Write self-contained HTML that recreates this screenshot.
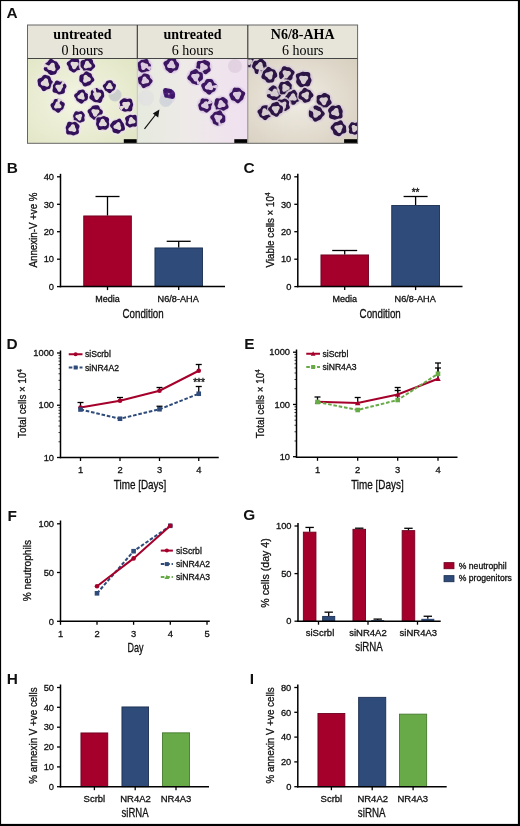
<!DOCTYPE html>
<html><head><meta charset="utf-8"><style>
html,body{margin:0;padding:0;background:#fff;width:520px;height:826px;overflow:hidden}
svg{display:block;filter:blur(0.3px)}

</style></head><body>
<svg width="520" height="826" viewBox="0 0 520 826">
<rect x="0" y="0" width="520" height="826" fill="#fff"/>
<text x="6.5" y="17.5" font-family="Liberation Sans" font-size="15.4" text-anchor="start" font-weight="bold" fill="#111" >A</text>
<defs>
<radialGradient id="bg0" cx="0.45" cy="0.5" r="0.7"><stop offset="0" stop-color="#f3f5e2"/><stop offset="1" stop-color="#e2e6c6"/></radialGradient>
<radialGradient id="bg1" cx="0.45" cy="0.5" r="0.7"><stop offset="0" stop-color="#f6f0f6"/><stop offset="1" stop-color="#e0dae0"/></radialGradient>
<radialGradient id="bg2" cx="0.45" cy="0.5" r="0.7"><stop offset="0" stop-color="#f0ece4"/><stop offset="1" stop-color="#d8d0c0"/></radialGradient>
<linearGradient id="bg1l" x1="0" y1="0" x2="1" y2="0"><stop offset="0" stop-color="#e6eade"/><stop offset="0.45" stop-color="#eeeae8"/><stop offset="1" stop-color="#f0e0f0"/></linearGradient>
</defs>
<rect x="27.5" y="58.5" width="109.80000000000001" height="84.80000000000001" fill="url(#bg0)"/>
<rect x="137.3" y="58.5" width="110.5" height="84.80000000000001" fill="url(#bg1l)"/>
<rect x="247.8" y="58.5" width="109.80000000000001" height="84.80000000000001" fill="url(#bg2)"/>
<clipPath id="c1"><rect x="27.5" y="58.5" width="109.80000000000001" height="84.80000000000001"/></clipPath>
<clipPath id="c2"><rect x="137.3" y="58.5" width="110.5" height="84.80000000000001"/></clipPath>
<clipPath id="c3"><rect x="247.8" y="58.5" width="109.80000000000001" height="84.80000000000001"/></clipPath>
<g clip-path="url(#c1)">
<circle cx="115" cy="95" r="6.5" fill="#c8cccc" opacity="0.9"/>
<circle cx="51.8" cy="67.2" r="9.5" fill="#f0e8f2" opacity="0.75"/>
<circle cx="51.8" cy="67.2" r="8.5" fill="#e2dad8"/>
<path d="M60.20,67.20 L59.79,68.61 L58.58,69.67 L57.47,70.48 L56.94,71.51 L56.56,72.87 L55.74,74.02 L54.48,74.55 L53.13,74.73 L51.80,74.97 L50.41,75.07 L49.14,74.50 L48.28,73.30 L47.62,72.18 L46.62,71.55 L45.18,71.02 L44.00,70.04 L43.72,68.62 L44.13,67.20 L44.54,65.92 L44.81,64.66 L45.35,63.48 L46.36,62.64 L47.45,62.01 L48.27,61.09 L49.10,59.79 L50.32,58.81 L51.80,58.90 L53.10,59.83 L54.16,60.72 L55.28,61.18 L56.50,61.60 L57.48,62.44 L58.10,63.56 L58.76,64.67 L59.64,65.82 Z M55.07,67.20 L54.88,66.66 L54.80,66.11 L54.78,65.48 L54.73,64.74 L54.51,63.97 L54.07,63.27 L53.40,62.81 L52.60,62.66 L51.80,62.84 L51.11,63.28 L50.58,63.84 L50.17,64.37 L49.79,64.81 L49.36,65.15 L48.82,65.48 L48.21,65.89 L47.64,66.47 L47.27,67.20 L47.20,68.01 L47.47,68.78 L48.03,69.38 L48.75,69.76 L49.50,69.94 L50.17,70.03 L50.73,70.14 L51.25,70.34 L51.80,70.64 L52.46,70.96 L53.24,71.17 L54.07,71.13 L54.81,70.78 L55.33,70.16 L55.57,69.38 L55.54,68.56 L55.33,67.82 Z" fill="#33105a" fill-rule="evenodd"/>
<path d="M51.80,67.20 L43.55,67.33 L44.42,63.52 Z" fill="#e2dad8"/>
<circle cx="74.4" cy="65" r="9.0" fill="#f0e8f2" opacity="0.75"/>
<circle cx="74.4" cy="65" r="8.0" fill="#e2dad8"/>
<path d="M81.58,65.00 L81.38,66.23 L81.25,67.49 L80.96,68.79 L80.07,69.76 L78.70,70.12 L77.44,70.26 L76.52,70.84 L75.61,71.87 L74.40,72.62 L73.08,72.50 L71.93,71.78 L70.90,71.06 L69.85,70.43 L69.00,69.53 L68.65,68.32 L68.54,67.13 L68.07,66.12 L67.18,65.00 L66.63,63.63 L67.07,62.33 L68.23,61.44 L69.36,60.77 L70.17,59.96 L70.99,59.09 L72.06,58.58 L73.24,58.45 L74.40,58.22 L75.68,57.75 L77.10,57.59 L78.25,58.33 L78.84,59.71 L79.16,61.00 L79.82,61.87 L80.79,62.67 L81.49,63.75 Z M78.21,65.00 L78.48,64.28 L78.48,63.52 L78.17,62.83 L77.59,62.32 L76.87,62.05 L76.14,61.99 L75.47,62.05 L74.91,62.10 L74.40,62.07 L73.86,61.94 L73.23,61.77 L72.50,61.70 L71.74,61.83 L71.08,62.21 L70.63,62.83 L70.48,63.57 L70.61,64.33 L70.93,65.00 L71.31,65.55 L71.64,66.01 L71.86,66.47 L72.02,67.00 L72.19,67.63 L72.50,68.30 L72.98,68.89 L73.65,69.27 L74.40,69.35 L75.12,69.10 L75.72,68.61 L76.14,68.01 L76.42,67.40 L76.65,66.89 L76.94,66.47 L77.32,66.06 L77.78,65.60 Z" fill="#33105a" fill-rule="evenodd"/>
<circle cx="87.5" cy="65" r="9.0" fill="#f0e8f2" opacity="0.75"/>
<circle cx="87.5" cy="65" r="8.0" fill="#e2dad8"/>
<path d="M94.96,65.00 L95.30,66.37 L94.64,67.60 L93.52,68.47 L92.59,69.27 L91.85,70.18 L90.93,70.94 L89.78,71.27 L88.63,71.42 L87.50,71.88 L86.18,72.48 L84.78,72.48 L83.74,71.51 L83.22,70.11 L82.74,69.00 L81.90,68.23 L80.98,67.37 L80.50,66.23 L80.49,65.00 L80.51,63.77 L80.46,62.44 L80.84,61.15 L81.94,60.33 L83.36,60.07 L84.49,59.78 L85.31,58.97 L86.25,57.92 L87.50,57.41 L88.79,57.70 L89.94,58.31 L91.06,58.83 L92.15,59.46 L92.86,60.51 L93.06,61.79 L93.27,62.90 L94.00,63.85 Z M91.47,65.00 L91.05,64.37 L90.55,63.89 L90.09,63.50 L89.73,63.13 L89.45,62.68 L89.15,62.14 L88.76,61.55 L88.20,61.03 L87.50,60.71 L86.74,60.70 L86.05,61.00 L85.51,61.56 L85.18,62.24 L85.01,62.91 L84.91,63.50 L84.76,64.00 L84.52,64.47 L84.19,65.00 L83.88,65.64 L83.71,66.38 L83.79,67.14 L84.15,67.81 L84.77,68.26 L85.51,68.44 L86.27,68.39 L86.94,68.20 L87.50,67.99 L88.01,67.87 L88.54,67.85 L89.15,67.86 L89.86,67.82 L90.59,67.59 L91.21,67.14 L91.60,66.49 L91.69,65.74 Z" fill="#33105a" fill-rule="evenodd"/>
<circle cx="45.3" cy="82.8" r="9.5" fill="#f0e8f2" opacity="0.75"/>
<circle cx="45.3" cy="82.8" r="8.5" fill="#e2dad8"/>
<path d="M53.66,82.80 L53.49,84.24 L52.54,85.43 L51.57,86.42 L50.86,87.46 L50.05,88.45 L48.90,89.04 L47.67,89.31 L46.53,89.80 L45.30,90.65 L43.83,91.16 L42.45,90.63 L41.55,89.30 L40.93,88.01 L40.09,87.18 L39.01,86.43 L38.21,85.38 L37.95,84.10 L37.82,82.80 L37.55,81.43 L37.51,79.97 L38.30,78.76 L39.75,78.14 L41.10,77.79 L41.98,77.06 L42.78,75.87 L43.91,74.93 L45.30,74.80 L46.64,75.21 L47.92,75.61 L49.21,76.03 L50.25,76.90 L50.75,78.23 L50.99,79.51 L51.66,80.49 L52.81,81.48 Z M48.64,82.80 L48.40,82.25 L48.26,81.72 L48.21,81.12 L48.14,80.42 L47.94,79.65 L47.53,78.94 L46.89,78.42 L46.11,78.22 L45.30,78.36 L44.59,78.77 L44.04,79.33 L43.63,79.91 L43.28,80.39 L42.89,80.78 L42.39,81.12 L41.82,81.53 L41.25,82.09 L40.84,82.80 L40.71,83.61 L40.93,84.39 L41.45,85.02 L42.17,85.43 L42.93,85.63 L43.63,85.69 L44.22,85.75 L44.75,85.90 L45.30,86.16 L45.94,86.45 L46.71,86.66 L47.53,86.66 L48.29,86.37 L48.86,85.79 L49.15,85.02 L49.15,84.20 L48.93,83.44 Z" fill="#33105a" fill-rule="evenodd"/>
<circle cx="59.3" cy="87.6" r="8.8" fill="#f0e8f2" opacity="0.75"/>
<circle cx="59.3" cy="87.6" r="7.8" fill="#e2dad8"/>
<path d="M66.09,87.60 L65.28,88.66 L64.83,89.61 L64.89,90.83 L64.84,92.25 L64.12,93.35 L62.89,93.82 L61.63,94.01 L60.48,94.29 L59.30,94.47 L58.15,94.14 L57.18,93.42 L56.25,92.89 L55.00,92.72 L53.57,92.41 L52.61,91.46 L52.52,90.07 L52.87,88.73 L53.00,87.60 L52.88,86.47 L53.02,85.32 L53.62,84.32 L54.31,83.42 L54.86,82.31 L55.55,81.10 L56.69,80.42 L58.08,80.67 L59.30,81.38 L60.33,81.74 L61.48,81.61 L62.76,81.61 L63.84,82.19 L64.61,83.15 L65.33,84.12 L66.11,85.12 L66.49,86.33 Z M62.73,87.60 L63.03,86.94 L63.14,86.20 L62.97,85.48 L62.51,84.90 L61.86,84.55 L61.12,84.44 L60.42,84.52 L59.82,84.66 L59.30,84.76 L58.80,84.77 L58.24,84.69 L57.59,84.63 L56.86,84.69 L56.17,84.97 L55.63,85.48 L55.36,86.17 L55.38,86.91 L55.66,87.60 L56.07,88.17 L56.50,88.62 L56.84,89.02 L57.10,89.45 L57.31,89.97 L57.59,90.57 L58.00,91.16 L58.59,91.63 L59.30,91.84 L60.03,91.73 L60.66,91.34 L61.12,90.76 L61.41,90.11 L61.59,89.52 L61.76,89.02 L62.00,88.58 L62.35,88.14 Z" fill="#33105a" fill-rule="evenodd"/>
<path d="M59.30,87.60 L62.57,80.87 L65.18,82.98 Z" fill="#e2dad8"/>
<circle cx="86.5" cy="79" r="9.0" fill="#f0e8f2" opacity="0.75"/>
<circle cx="86.5" cy="79" r="8.0" fill="#e2dad8"/>
<path d="M94.22,79.00 L94.33,80.38 L93.45,81.53 L92.28,82.34 L91.44,83.14 L90.80,84.13 L89.95,84.97 L88.82,85.38 L87.67,85.64 L86.50,86.13 L85.16,86.60 L83.82,86.36 L82.90,85.24 L82.40,83.88 L81.82,82.93 L80.81,82.29 L79.78,81.45 L79.30,80.27 L79.34,79.00 L79.44,77.75 L79.51,76.46 L80.02,75.26 L81.17,74.53 L82.49,74.22 L83.46,73.74 L84.22,72.72 L85.20,71.63 L86.50,71.25 L87.78,71.71 L88.89,72.42 L89.98,72.98 L91.02,73.61 L91.73,74.61 L92.03,75.80 L92.44,76.84 L93.32,77.80 Z M90.82,79.00 L90.54,78.29 L90.03,77.72 L89.43,77.31 L88.86,77.02 L88.38,76.76 L87.98,76.44 L87.59,76.01 L87.11,75.53 L86.50,75.10 L85.77,74.86 L85.01,74.90 L84.34,75.26 L83.87,75.86 L83.62,76.59 L83.57,77.31 L83.61,77.95 L83.62,78.49 L83.54,79.00 L83.37,79.55 L83.19,80.21 L83.12,80.95 L83.28,81.70 L83.70,82.34 L84.34,82.74 L85.10,82.85 L85.85,82.70 L86.50,82.38 L87.03,82.03 L87.50,81.74 L87.98,81.56 L88.55,81.44 L89.20,81.27 L89.88,80.95 L90.45,80.44 L90.79,79.76 Z" fill="#33105a" fill-rule="evenodd"/>
<circle cx="81.4" cy="96.4" r="8.5" fill="#f0e8f2" opacity="0.75"/>
<circle cx="81.4" cy="96.4" r="7.5" fill="#e2dad8"/>
<path d="M88.18,96.40 L87.92,97.55 L87.72,98.70 L87.28,99.79 L86.33,100.54 L85.16,100.88 L84.24,101.32 L83.53,102.25 L82.62,103.31 L81.40,103.71 L80.19,103.23 L79.21,102.43 L78.27,101.82 L77.30,101.29 L76.54,100.48 L76.14,99.44 L75.76,98.45 L75.03,97.52 L74.24,96.40 L74.13,95.12 L74.94,94.05 L76.10,93.34 L76.93,92.65 L77.47,91.72 L78.17,90.80 L79.18,90.29 L80.28,90.07 L81.40,89.77 L82.63,89.44 L83.86,89.65 L84.73,90.64 L85.18,91.89 L85.70,92.79 L86.66,93.37 L87.72,94.10 L88.27,95.19 Z M84.26,96.40 L84.07,95.93 L83.98,95.46 L83.95,94.93 L83.90,94.30 L83.72,93.63 L83.35,93.03 L82.78,92.60 L82.10,92.45 L81.40,92.58 L80.79,92.95 L80.32,93.44 L79.97,93.92 L79.66,94.32 L79.30,94.64 L78.85,94.93 L78.34,95.28 L77.84,95.77 L77.50,96.40 L77.42,97.10 L77.63,97.77 L78.10,98.31 L78.72,98.65 L79.38,98.81 L79.97,98.88 L80.47,98.95 L80.92,99.10 L81.40,99.34 L81.97,99.61 L82.63,99.79 L83.35,99.77 L84.00,99.50 L84.48,98.98 L84.70,98.31 L84.69,97.60 L84.50,96.95 Z" fill="#33105a" fill-rule="evenodd"/>
<circle cx="97" cy="95.5" r="9.2" fill="#f0e8f2" opacity="0.75"/>
<circle cx="97" cy="95.5" r="8.2" fill="#e2dad8"/>
<path d="M104.20,95.50 L104.04,96.74 L103.35,97.81 L102.60,98.73 L102.21,99.88 L101.91,101.35 L101.09,102.59 L99.71,102.93 L98.24,102.52 L97.00,102.13 L95.83,102.13 L94.59,102.12 L93.46,101.62 L92.54,100.81 L91.54,100.08 L90.33,99.35 L89.39,98.27 L89.38,96.84 L90.14,95.50 L90.81,94.41 L90.89,93.28 L90.81,91.92 L91.23,90.66 L92.21,89.79 L93.33,89.15 L94.43,88.44 L95.66,87.90 L97.00,88.07 L98.16,88.90 L99.13,89.66 L100.27,89.83 L101.76,89.83 L103.10,90.38 L103.77,91.59 L103.89,92.99 L104.00,94.27 Z M101.02,95.50 L101.26,94.75 L101.21,93.97 L100.85,93.28 L100.23,92.79 L99.48,92.55 L98.74,92.49 L98.08,92.53 L97.52,92.54 L97.00,92.45 L96.43,92.27 L95.76,92.09 L94.99,92.02 L94.22,92.18 L93.56,92.62 L93.15,93.28 L93.04,94.06 L93.20,94.83 L93.53,95.50 L93.89,96.05 L94.18,96.53 L94.36,97.02 L94.49,97.61 L94.66,98.28 L94.99,98.98 L95.52,99.57 L96.22,99.92 L97.00,99.94 L97.73,99.65 L98.32,99.12 L98.74,98.51 L99.03,97.92 L99.30,97.43 L99.64,97.02 L100.08,96.62 L100.58,96.13 Z" fill="#33105a" fill-rule="evenodd"/>
<path d="M97.00,95.50 L91.96,89.39 L95.51,87.72 Z" fill="#e2dad8"/>
<circle cx="57.7" cy="105.5" r="8.5" fill="#f0e8f2" opacity="0.75"/>
<circle cx="57.7" cy="105.5" r="7.5" fill="#e2dad8"/>
<path d="M64.48,105.50 L63.96,106.60 L63.64,107.66 L63.26,108.71 L62.51,109.53 L61.55,110.08 L60.72,110.74 L59.98,111.75 L58.97,112.69 L57.70,112.81 L56.54,112.06 L55.65,111.14 L54.75,110.60 L53.69,110.28 L52.73,109.67 L52.13,108.72 L51.67,107.69 L51.05,106.67 L50.52,105.50 L50.69,104.26 L51.64,103.30 L52.73,102.63 L53.35,101.85 L53.68,100.71 L54.29,99.59 L55.34,99.00 L56.54,98.91 L57.70,98.86 L58.88,98.80 L60.01,99.14 L60.84,100.07 L61.38,101.11 L62.11,101.80 L63.28,102.28 L64.42,103.05 L64.83,104.24 Z M61.28,105.50 L60.88,104.94 L60.44,104.50 L60.07,104.13 L59.78,103.75 L59.56,103.29 L59.29,102.74 L58.91,102.18 L58.37,101.72 L57.70,101.47 L57.00,101.52 L56.38,101.86 L55.91,102.40 L55.63,103.03 L55.46,103.62 L55.33,104.13 L55.14,104.57 L54.86,105.00 L54.52,105.50 L54.22,106.11 L54.09,106.81 L54.21,107.51 L54.61,108.10 L55.21,108.47 L55.91,108.60 L56.60,108.53 L57.19,108.37 L57.70,108.23 L58.17,108.18 L58.69,108.21 L59.29,108.26 L59.97,108.21 L60.64,107.97 L61.19,107.51 L61.49,106.88 L61.52,106.17 Z" fill="#33105a" fill-rule="evenodd"/>
<path d="M57.70,105.50 L57.55,98.35 L61.58,99.49 Z" fill="#e2dad8"/>
<circle cx="109.5" cy="86.5" r="8.0" fill="#f0e8f2" opacity="0.75"/>
<circle cx="109.5" cy="86.5" r="7.0" fill="#e2dad8"/>
<path d="M115.82,86.50 L115.43,87.55 L115.16,88.56 L114.76,89.54 L113.98,90.26 L113.00,90.67 L112.19,91.16 L111.53,92.07 L110.65,93.02 L109.50,93.30 L108.40,92.74 L107.53,91.90 L106.71,91.33 L105.79,90.92 L104.99,90.28 L104.51,89.38 L104.11,88.46 L103.48,87.56 L102.86,86.50 L102.87,85.33 L103.69,84.38 L104.76,83.76 L105.47,83.11 L105.87,82.17 L106.45,81.21 L107.38,80.67 L108.44,80.50 L109.50,80.34 L110.62,80.18 L111.71,80.44 L112.49,81.33 L112.93,82.41 L113.48,83.16 L114.46,83.64 L115.51,84.31 L116.00,85.35 Z M112.52,86.50 L112.19,86.03 L111.88,85.63 L111.67,85.25 L111.52,84.81 L111.36,84.28 L111.11,83.71 L110.70,83.20 L110.14,82.85 L109.50,82.76 L108.87,82.95 L108.36,83.36 L107.99,83.88 L107.75,84.41 L107.56,84.87 L107.33,85.25 L107.02,85.60 L106.65,86.00 L106.28,86.50 L106.04,87.11 L106.02,87.77 L106.26,88.37 L106.74,88.82 L107.35,89.06 L107.99,89.12 L108.57,89.06 L109.06,89.00 L109.50,89.00 L109.96,89.09 L110.49,89.22 L111.11,89.29 L111.76,89.19 L112.34,88.88 L112.74,88.37 L112.89,87.73 L112.79,87.08 Z" fill="#33105a" fill-rule="evenodd"/>
<circle cx="126.3" cy="105" r="9.0" fill="#f0e8f2" opacity="0.75"/>
<circle cx="126.3" cy="105" r="8.0" fill="#e2dad8"/>
<path d="M133.15,105.00 L132.77,106.14 L132.37,107.21 L132.28,108.45 L132.17,109.93 L131.42,111.10 L130.03,111.46 L128.57,111.24 L127.39,111.18 L126.30,111.54 L125.09,111.84 L123.90,111.59 L122.84,111.00 L121.73,110.45 L120.50,109.87 L119.59,108.87 L119.51,107.47 L120.01,106.11 L120.26,105.00 L119.92,103.87 L119.53,102.53 L119.79,101.24 L120.69,100.29 L121.72,99.54 L122.69,98.75 L123.80,98.13 L125.09,98.13 L126.30,98.65 L127.36,98.98 L128.57,98.76 L130.05,98.50 L131.37,98.96 L132.06,100.17 L132.31,101.53 L132.62,102.70 L133.05,103.81 Z M129.85,105.00 L130.16,104.32 L130.26,103.56 L130.08,102.82 L129.60,102.23 L128.92,101.87 L128.17,101.77 L127.45,101.84 L126.83,101.99 L126.30,102.08 L125.78,102.08 L125.21,101.99 L124.53,101.93 L123.78,102.00 L123.07,102.29 L122.52,102.82 L122.25,103.53 L122.28,104.29 L122.57,105.00 L122.99,105.58 L123.42,106.05 L123.77,106.46 L124.03,106.91 L124.24,107.45 L124.53,108.07 L124.96,108.68 L125.57,109.15 L126.30,109.36 L127.05,109.25 L127.70,108.84 L128.17,108.23 L128.46,107.57 L128.64,106.97 L128.83,106.46 L129.09,106.02 L129.45,105.56 Z" fill="#33105a" fill-rule="evenodd"/>
<path d="M126.30,105.00 L121.07,110.65 L118.77,106.59 Z" fill="#e2dad8"/>
<circle cx="95.3" cy="112.4" r="9.0" fill="#f0e8f2" opacity="0.75"/>
<circle cx="95.3" cy="112.4" r="8.0" fill="#e2dad8"/>
<path d="M102.79,112.40 L102.37,113.65 L101.98,114.83 L101.57,116.02 L100.74,116.96 L99.52,117.43 L98.37,117.72 L97.50,118.43 L96.56,119.55 L95.30,120.28 L93.96,120.01 L92.87,119.07 L91.96,118.18 L90.98,117.55 L90.04,116.81 L89.47,115.76 L89.18,114.63 L88.66,113.57 L87.87,112.40 L87.48,111.02 L88.07,109.77 L89.35,108.97 L90.50,108.37 L91.21,107.53 L91.88,106.48 L92.87,105.73 L94.08,105.48 L95.30,105.36 L96.58,105.13 L97.93,105.16 L99.01,105.97 L99.57,107.32 L99.94,108.51 L100.72,109.27 L101.88,110.00 L102.73,111.09 Z M99.12,112.40 L99.38,111.68 L99.38,110.92 L99.06,110.23 L98.49,109.72 L97.77,109.46 L97.03,109.40 L96.37,109.46 L95.81,109.50 L95.30,109.47 L94.76,109.33 L94.12,109.17 L93.39,109.09 L92.63,109.22 L91.98,109.61 L91.54,110.23 L91.39,110.98 L91.52,111.73 L91.84,112.40 L92.21,112.94 L92.54,113.41 L92.76,113.87 L92.91,114.40 L93.09,115.04 L93.39,115.71 L93.88,116.30 L94.55,116.67 L95.30,116.75 L96.02,116.50 L96.61,116.01 L97.03,115.40 L97.31,114.80 L97.55,114.29 L97.84,113.87 L98.23,113.47 L98.69,113.00 Z" fill="#33105a" fill-rule="evenodd"/>
<circle cx="79" cy="117" r="8.0" fill="#f0e8f2" opacity="0.75"/>
<circle cx="79" cy="117" r="7.0" fill="#e2dad8"/>
<path d="M84.36,117.00 L84.22,117.92 L84.52,119.01 L84.69,120.29 L84.17,121.34 L83.07,121.85 L81.92,122.06 L80.96,122.38 L80.02,122.78 L79.00,122.84 L78.02,122.54 L77.08,122.27 L75.96,122.26 L74.71,122.11 L73.81,121.36 L73.61,120.11 L73.79,118.90 L73.72,117.93 L73.32,117.00 L73.07,115.95 L73.32,114.93 L73.82,114.01 L74.27,113.03 L74.80,111.99 L75.72,111.32 L76.94,111.34 L78.07,111.73 L79.00,111.80 L79.99,111.39 L81.16,111.07 L82.24,111.39 L83.02,112.21 L83.66,113.09 L84.35,113.91 L84.83,114.88 L84.77,115.98 Z M81.68,117.00 L81.91,116.49 L82.08,115.88 L82.08,115.22 L81.85,114.61 L81.39,114.15 L80.78,113.92 L80.12,113.92 L79.51,114.09 L79.00,114.32 L78.56,114.52 L78.14,114.63 L77.66,114.68 L77.10,114.73 L76.49,114.89 L75.92,115.22 L75.50,115.73 L75.33,116.35 L75.44,117.00 L75.77,117.57 L76.22,118.01 L76.68,118.34 L77.07,118.62 L77.38,118.93 L77.66,119.32 L77.99,119.78 L78.43,120.23 L79.00,120.56 L79.65,120.67 L80.27,120.50 L80.78,120.08 L81.11,119.51 L81.27,118.90 L81.32,118.34 L81.37,117.86 L81.48,117.44 Z" fill="#33105a" fill-rule="evenodd"/>
<circle cx="72.5" cy="128.5" r="9.0" fill="#f0e8f2" opacity="0.75"/>
<circle cx="72.5" cy="128.5" r="8.0" fill="#e2dad8"/>
<path d="M78.74,128.50 L78.47,129.55 L78.77,130.78 L78.97,132.24 L78.42,133.47 L77.25,134.16 L76.00,134.57 L74.89,135.06 L73.73,135.45 L72.50,135.32 L71.39,134.78 L70.34,134.42 L69.04,134.49 L67.54,134.41 L66.41,133.61 L66.09,132.20 L66.21,130.79 L66.13,129.62 L65.79,128.50 L65.72,127.30 L66.14,126.19 L66.68,125.14 L67.04,123.92 L67.53,122.58 L68.58,121.70 L70.03,121.72 L71.39,122.22 L72.50,122.38 L73.64,122.02 L74.94,121.79 L76.14,122.19 L77.09,123.03 L78.00,123.89 L78.96,124.77 L79.55,125.94 L79.36,127.29 Z M75.79,128.50 L75.47,127.98 L75.24,127.50 L75.10,127.00 L75.00,126.40 L74.83,125.72 L74.49,125.05 L73.96,124.50 L73.26,124.20 L72.50,124.22 L71.80,124.54 L71.25,125.06 L70.85,125.65 L70.56,126.19 L70.27,126.63 L69.90,127.00 L69.44,127.38 L68.93,127.87 L68.51,128.50 L68.30,129.24 L68.40,129.99 L68.79,130.64 L69.42,131.08 L70.15,131.30 L70.85,131.35 L71.47,131.34 L71.99,131.37 L72.50,131.50 L73.07,131.71 L73.74,131.90 L74.49,131.95 L75.24,131.76 L75.85,131.31 L76.21,130.64 L76.28,129.87 L76.10,129.14 Z" fill="#33105a" fill-rule="evenodd"/>
<circle cx="102.8" cy="123.1" r="9.0" fill="#f0e8f2" opacity="0.75"/>
<circle cx="102.8" cy="123.1" r="8.0" fill="#e2dad8"/>
<path d="M109.18,123.10 L109.84,124.34 L109.92,125.69 L109.23,126.81 L108.26,127.69 L107.38,128.56 L106.42,129.38 L105.20,129.70 L103.92,129.45 L102.80,129.23 L101.66,129.56 L100.26,130.07 L98.85,129.95 L97.90,128.94 L97.45,127.59 L97.04,126.43 L96.44,125.41 L96.04,124.29 L96.13,123.10 L96.39,121.97 L96.37,120.76 L96.25,119.32 L96.70,117.98 L97.94,117.31 L99.45,117.29 L100.67,117.25 L101.68,116.75 L102.80,116.18 L104.03,116.11 L105.19,116.52 L106.34,116.97 L107.60,117.37 L108.70,118.15 L109.12,119.45 L108.89,120.88 L108.73,122.05 Z M106.56,123.10 L106.13,122.51 L105.69,122.05 L105.33,121.64 L105.07,121.20 L104.84,120.67 L104.56,120.05 L104.13,119.44 L103.53,118.96 L102.80,118.74 L102.05,118.84 L101.40,119.25 L100.92,119.84 L100.62,120.51 L100.44,121.12 L100.27,121.64 L100.02,122.09 L99.67,122.55 L99.28,123.10 L98.96,123.78 L98.85,124.54 L99.03,125.28 L99.49,125.88 L100.16,126.24 L100.92,126.36 L101.64,126.28 L102.27,126.13 L102.80,126.02 L103.31,126.01 L103.89,126.09 L104.56,126.15 L105.30,126.08 L106.02,125.80 L106.57,125.28 L106.86,124.58 L106.84,123.81 Z" fill="#33105a" fill-rule="evenodd"/>
<circle cx="117.7" cy="126.3" r="9.0" fill="#f0e8f2" opacity="0.75"/>
<circle cx="117.7" cy="126.3" r="8.0" fill="#e2dad8"/>
<path d="M124.51,126.30 L124.83,127.56 L125.00,128.96 L124.42,130.18 L123.09,130.82 L121.72,131.09 L120.77,131.61 L119.99,132.58 L118.96,133.43 L117.70,133.64 L116.46,133.35 L115.24,133.06 L113.98,132.74 L112.94,131.97 L112.47,130.68 L112.36,129.38 L111.93,128.40 L110.96,127.49 L110.09,126.30 L110.07,124.95 L110.82,123.80 L111.69,122.83 L112.39,121.85 L113.20,120.94 L114.32,120.45 L115.52,120.32 L116.59,119.99 L117.70,119.22 L119.06,118.59 L120.40,118.87 L121.33,120.02 L121.92,121.27 L122.63,122.17 L123.53,122.94 L124.20,123.94 L124.40,125.12 Z M120.76,126.30 L120.57,125.79 L120.49,125.28 L120.47,124.70 L120.42,124.02 L120.22,123.30 L119.81,122.65 L119.19,122.20 L118.45,122.05 L117.70,122.22 L117.05,122.63 L116.55,123.15 L116.17,123.65 L115.82,124.06 L115.43,124.39 L114.93,124.70 L114.36,125.09 L113.84,125.62 L113.48,126.30 L113.40,127.06 L113.65,127.77 L114.17,128.34 L114.84,128.70 L115.54,128.87 L116.17,128.95 L116.70,129.04 L117.18,129.22 L117.70,129.50 L118.32,129.80 L119.04,129.99 L119.81,129.95 L120.50,129.64 L121.00,129.07 L121.23,128.34 L121.21,127.58 L121.01,126.88 Z" fill="#33105a" fill-rule="evenodd"/>
<circle cx="131.6" cy="121" r="8.5" fill="#f0e8f2" opacity="0.75"/>
<circle cx="131.6" cy="121" r="7.5" fill="#e2dad8"/>
<path d="M138.01,121.00 L137.84,122.10 L137.52,123.15 L137.35,124.32 L137.09,125.61 L136.26,126.56 L134.93,126.76 L133.61,126.53 L132.58,126.58 L131.60,127.12 L130.44,127.57 L129.27,127.41 L128.27,126.77 L127.32,126.10 L126.33,125.42 L125.62,124.46 L125.55,123.20 L125.90,122.00 L125.95,121.00 L125.46,119.92 L125.03,118.61 L125.35,117.39 L126.34,116.58 L127.44,116.04 L128.39,115.44 L129.38,114.89 L130.50,114.77 L131.60,115.05 L132.62,115.19 L133.81,114.93 L135.20,114.77 L136.34,115.35 L136.84,116.60 L136.94,117.92 L137.20,118.96 L137.71,119.92 Z M135.43,121.00 L135.06,120.39 L134.57,119.92 L134.09,119.56 L133.68,119.25 L133.36,118.90 L133.07,118.46 L132.71,117.95 L132.22,117.46 L131.60,117.11 L130.90,117.02 L130.23,117.22 L129.69,117.69 L129.34,118.31 L129.18,118.97 L129.11,119.56 L129.05,120.07 L128.90,120.52 L128.67,121.00 L128.40,121.56 L128.22,122.23 L128.23,122.94 L128.50,123.60 L129.02,124.08 L129.69,124.31 L130.40,124.30 L131.05,124.11 L131.60,123.87 L132.07,123.68 L132.54,123.57 L133.07,123.54 L133.69,123.49 L134.36,123.31 L134.97,122.94 L135.40,122.38 L135.56,121.70 Z" fill="#33105a" fill-rule="evenodd"/>
</g>
<g clip-path="url(#c2)">
<ellipse cx="168" cy="96" rx="8" ry="8.5" fill="#e0d8e8" opacity="0.9"/>
<circle cx="165.8" cy="100.5" r="6.5" fill="#cfd3d8" opacity="0.85"/>
<circle cx="146" cy="98" r="8" fill="#e0dde2" opacity="0.6"/>
<circle cx="235" cy="66" r="7" fill="#d8c8d8" opacity="0.6"/>
<circle cx="144" cy="66" r="8.8" fill="#e4d4ee" opacity="0.75"/>
<circle cx="144" cy="66" r="7.8" fill="#dccbe0"/>
<path d="M150.97,66.00 L150.76,67.19 L150.59,68.40 L150.36,69.67 L149.61,70.70 L148.31,71.14 L147.00,71.20 L146.02,71.56 L145.14,72.46 L144.00,73.27 L142.71,73.32 L141.57,72.67 L140.58,71.92 L139.57,71.27 L138.70,70.45 L138.30,69.29 L138.26,68.09 L137.99,67.06 L137.22,66.00 L136.57,64.69 L136.79,63.38 L137.84,62.44 L139.02,61.82 L139.90,61.11 L140.71,60.29 L141.73,59.75 L142.88,59.63 L144.00,59.52 L145.21,59.13 L146.59,58.87 L147.81,59.40 L148.46,60.68 L148.73,62.03 L149.21,62.99 L150.07,63.79 L150.81,64.80 Z M148.15,66.00 L148.18,65.26 L147.90,64.58 L147.36,64.06 L146.70,63.73 L146.04,63.57 L145.46,63.47 L144.97,63.34 L144.51,63.12 L144.00,62.81 L143.38,62.51 L142.67,62.34 L141.92,62.40 L141.27,62.75 L140.82,63.34 L140.64,64.06 L140.68,64.79 L140.87,65.45 L141.08,66.00 L141.21,66.49 L141.25,67.00 L141.24,67.59 L141.29,68.28 L141.50,68.98 L141.92,69.60 L142.55,69.99 L143.28,70.08 L144.00,69.88 L144.61,69.48 L145.09,68.99 L145.46,68.53 L145.82,68.17 L146.24,67.88 L146.76,67.59 L147.33,67.21 L147.84,66.68 Z" fill="#3c1560" fill-rule="evenodd"/>
<path d="M144.00,66.00 L151.47,66.45 L149.82,70.70 Z" fill="#dccbe0"/>
<circle cx="145" cy="80.6" r="8.8" fill="#e4d4ee" opacity="0.75"/>
<circle cx="145" cy="80.6" r="7.8" fill="#dccbe0"/>
<path d="M152.60,80.60 L152.37,81.90 L151.51,82.97 L150.69,83.89 L150.07,84.86 L149.31,85.73 L148.24,86.22 L147.14,86.47 L146.12,86.98 L145.00,87.79 L143.66,88.21 L142.43,87.65 L141.64,86.43 L141.04,85.31 L140.23,84.60 L139.26,83.91 L138.59,82.93 L138.37,81.77 L138.21,80.60 L137.91,79.35 L137.91,78.02 L138.69,76.96 L140.03,76.43 L141.21,76.08 L141.97,75.34 L142.69,74.25 L143.74,73.46 L145.00,73.40 L146.21,73.74 L147.38,74.05 L148.56,74.43 L149.47,75.27 L149.89,76.50 L150.13,77.64 L150.81,78.49 L151.89,79.39 Z M148.98,80.60 L148.60,79.97 L148.09,79.48 L147.59,79.11 L147.17,78.78 L146.85,78.40 L146.54,77.93 L146.17,77.38 L145.66,76.87 L145.00,76.52 L144.26,76.43 L143.56,76.66 L143.01,77.15 L142.65,77.80 L142.48,78.49 L142.41,79.11 L142.33,79.63 L142.17,80.10 L141.91,80.60 L141.63,81.19 L141.44,81.89 L141.46,82.64 L141.76,83.32 L142.30,83.82 L143.01,84.05 L143.75,84.03 L144.43,83.84 L145.00,83.59 L145.49,83.40 L145.98,83.30 L146.54,83.27 L147.20,83.22 L147.90,83.03 L148.54,82.64 L148.98,82.05 L149.13,81.33 Z" fill="#3c1560" fill-rule="evenodd"/>
<circle cx="171.4" cy="65" r="9.3" fill="#e4d4ee" opacity="0.75"/>
<circle cx="171.4" cy="65" r="8.3" fill="#dccbe0"/>
<path d="M179.12,65.00 L178.79,66.30 L178.43,67.56 L178.06,68.84 L177.25,69.91 L175.94,70.41 L174.61,70.56 L173.60,71.05 L172.65,72.09 L171.40,73.00 L169.99,72.99 L168.79,72.16 L167.81,71.21 L166.81,70.47 L165.85,69.66 L165.30,68.52 L165.12,67.29 L164.75,66.17 L163.95,65.00 L163.34,63.58 L163.67,62.19 L164.89,61.24 L166.21,60.64 L167.12,59.90 L167.90,58.93 L168.92,58.18 L170.15,57.93 L171.40,57.83 L172.72,57.54 L174.16,57.41 L175.41,58.05 L176.07,59.43 L176.36,60.84 L176.93,61.81 L177.98,62.60 L178.91,63.68 Z M174.97,65.00 L174.59,64.44 L174.27,63.96 L174.06,63.46 L173.92,62.89 L173.74,62.22 L173.41,61.51 L172.89,60.91 L172.19,60.53 L171.40,60.48 L170.65,60.76 L170.05,61.28 L169.62,61.91 L169.32,62.52 L169.06,63.04 L168.74,63.46 L168.31,63.88 L167.82,64.37 L167.37,65.00 L167.11,65.76 L167.14,66.55 L167.49,67.26 L168.10,67.77 L168.86,68.03 L169.62,68.09 L170.29,68.04 L170.87,68.01 L171.40,68.07 L171.97,68.24 L172.64,68.42 L173.41,68.49 L174.20,68.34 L174.88,67.92 L175.31,67.26 L175.45,66.47 L175.30,65.69 Z" fill="#3c1560" fill-rule="evenodd"/>
<circle cx="203.3" cy="67.2" r="9.3" fill="#e4d4ee" opacity="0.75"/>
<circle cx="203.3" cy="67.2" r="8.3" fill="#dccbe0"/>
<path d="M209.74,67.20 L210.40,68.45 L210.71,69.90 L210.16,71.16 L209.08,72.05 L208.02,72.82 L207.02,73.64 L205.83,74.15 L204.51,74.04 L203.30,73.68 L202.15,73.74 L200.75,74.21 L199.20,74.29 L198.06,73.45 L197.56,72.01 L197.30,70.66 L196.82,69.56 L196.29,68.44 L196.20,67.20 L196.51,66.00 L196.71,64.80 L196.69,63.38 L197.00,61.92 L198.10,61.00 L199.66,60.90 L201.07,61.06 L202.17,60.78 L203.30,60.14 L204.60,59.85 L205.85,60.21 L206.98,60.82 L208.19,61.37 L209.38,62.10 L210.04,63.31 L209.91,64.79 L209.56,66.10 Z M207.84,67.20 L207.61,66.44 L207.11,65.81 L206.47,65.37 L205.83,65.07 L205.28,64.84 L204.82,64.56 L204.40,64.18 L203.91,63.72 L203.30,63.27 L202.56,62.98 L201.76,62.96 L201.03,63.27 L200.49,63.85 L200.19,64.59 L200.13,65.37 L200.19,66.07 L200.27,66.66 L200.25,67.20 L200.13,67.76 L199.97,68.41 L199.90,69.17 L200.02,69.95 L200.40,70.66 L201.03,71.13 L201.80,71.31 L202.60,71.19 L203.30,70.86 L203.87,70.46 L204.35,70.10 L204.82,69.84 L205.37,69.66 L206.01,69.47 L206.70,69.17 L207.33,68.67 L207.74,67.98 Z" fill="#3c1560" fill-rule="evenodd"/>
<circle cx="195.5" cy="77" r="9.3" fill="#e4d4ee" opacity="0.75"/>
<circle cx="195.5" cy="77" r="8.3" fill="#dccbe0"/>
<path d="M202.96,77.00 L203.00,78.32 L202.50,79.55 L201.43,80.42 L200.38,81.10 L199.78,82.10 L199.26,83.52 L198.30,84.69 L196.90,84.92 L195.50,84.43 L194.28,83.92 L193.08,83.65 L191.91,83.22 L191.01,82.35 L190.34,81.33 L189.46,80.49 L188.24,79.64 L187.34,78.44 L187.45,77.00 L188.41,75.75 L189.31,74.75 L189.73,73.67 L190.05,72.42 L190.78,71.37 L191.87,70.72 L193.00,70.14 L194.16,69.40 L195.50,68.92 L196.85,69.32 L197.88,70.47 L198.66,71.52 L199.69,72.01 L201.07,72.33 L202.26,73.10 L202.79,74.35 L202.86,75.70 Z M199.09,77.00 L199.43,76.31 L199.57,75.52 L199.42,74.74 L198.97,74.09 L198.29,73.68 L197.50,73.54 L196.73,73.61 L196.07,73.79 L195.50,73.94 L194.97,73.99 L194.39,73.94 L193.70,73.89 L192.94,73.95 L192.18,74.22 L191.58,74.74 L191.24,75.45 L191.23,76.25 L191.50,77.00 L191.95,77.63 L192.43,78.12 L192.85,78.53 L193.15,78.97 L193.41,79.49 L193.70,80.11 L194.14,80.75 L194.75,81.26 L195.50,81.53 L196.29,81.46 L196.98,81.07 L197.50,80.46 L197.82,79.76 L198.00,79.10 L198.15,78.53 L198.38,78.05 L198.71,77.57 Z" fill="#3c1560" fill-rule="evenodd"/>
<path d="M195.50,77.00 L200.55,83.25 L197.48,84.78 Z" fill="#dccbe0"/>
<circle cx="209.2" cy="86.5" r="9.3" fill="#e4d4ee" opacity="0.75"/>
<circle cx="209.2" cy="86.5" r="8.3" fill="#dccbe0"/>
<path d="M217.12,86.50 L216.48,87.78 L215.92,88.95 L215.47,90.12 L214.72,91.14 L213.60,91.75 L212.50,92.22 L211.59,93.06 L210.56,94.20 L209.20,94.82 L207.82,94.35 L206.75,93.22 L205.87,92.27 L204.82,91.72 L203.72,91.10 L202.96,90.11 L202.54,88.93 L202.03,87.76 L201.36,86.50 L201.14,85.08 L201.90,83.84 L203.24,83.06 L204.34,82.43 L204.95,81.43 L205.54,80.17 L206.57,79.26 L207.88,79.02 L209.20,79.06 L210.52,79.02 L211.86,79.20 L212.93,80.04 L213.53,81.34 L214.03,82.44 L215.00,83.15 L216.33,83.90 L217.21,85.09 Z M212.59,86.50 L212.28,85.96 L212.05,85.46 L211.93,84.92 L211.83,84.29 L211.66,83.57 L211.30,82.86 L210.73,82.30 L209.99,82.01 L209.20,82.06 L208.48,82.41 L207.91,82.96 L207.50,83.56 L207.19,84.11 L206.87,84.55 L206.47,84.92 L205.97,85.32 L205.44,85.84 L205.00,86.50 L204.80,87.28 L204.92,88.06 L205.35,88.72 L206.02,89.17 L206.78,89.39 L207.50,89.44 L208.13,89.44 L208.67,89.49 L209.20,89.65 L209.80,89.89 L210.51,90.09 L211.30,90.14 L212.07,89.92 L212.69,89.43 L213.05,88.72 L213.10,87.92 L212.91,87.15 Z" fill="#3c1560" fill-rule="evenodd"/>
<path d="M209.20,86.50 L217.03,84.73 L216.93,88.67 Z" fill="#dccbe0"/>
<circle cx="237.2" cy="95.1" r="9.3" fill="#e4d4ee" opacity="0.75"/>
<circle cx="237.2" cy="95.1" r="8.3" fill="#dccbe0"/>
<path d="M244.75,95.10 L244.03,96.30 L243.65,97.45 L243.34,98.65 L242.66,99.68 L241.65,100.41 L240.70,101.16 L239.79,102.22 L238.62,103.16 L237.20,103.23 L235.92,102.33 L234.96,101.27 L233.96,100.71 L232.70,100.47 L231.49,99.89 L230.72,98.84 L230.27,97.62 L229.75,96.41 L229.30,95.10 L229.51,93.74 L230.52,92.67 L231.67,91.91 L232.30,90.99 L232.61,89.63 L233.27,88.29 L234.48,87.62 L235.88,87.63 L237.20,87.77 L238.49,87.81 L239.73,88.14 L240.70,89.04 L241.39,90.11 L242.26,90.85 L243.59,91.41 L244.87,92.31 L245.27,93.68 Z M240.77,95.10 L241.11,94.41 L241.25,93.62 L241.12,92.84 L240.67,92.18 L240.00,91.77 L239.21,91.62 L238.44,91.69 L237.77,91.87 L237.20,92.03 L236.67,92.09 L236.09,92.06 L235.41,92.01 L234.65,92.06 L233.90,92.33 L233.28,92.84 L232.94,93.55 L232.91,94.34 L233.18,95.10 L233.63,95.73 L234.12,96.22 L234.54,96.64 L234.86,97.06 L235.12,97.58 L235.41,98.19 L235.84,98.83 L236.45,99.35 L237.20,99.62 L237.99,99.57 L238.69,99.19 L239.21,98.58 L239.53,97.88 L239.71,97.21 L239.86,96.64 L240.07,96.15 L240.39,95.66 Z" fill="#3c1560" fill-rule="evenodd"/>
<circle cx="205.3" cy="105.3" r="8.8" fill="#e4d4ee" opacity="0.75"/>
<circle cx="205.3" cy="105.3" r="7.8" fill="#dccbe0"/>
<path d="M211.77,105.30 L211.24,106.35 L211.20,107.45 L211.14,108.67 L210.60,109.74 L209.68,110.52 L208.75,111.27 L207.79,112.13 L206.60,112.66 L205.30,112.35 L204.21,111.46 L203.30,110.80 L202.18,110.70 L200.81,110.65 L199.65,110.04 L199.06,108.90 L198.80,107.67 L198.49,106.50 L198.28,105.30 L198.61,104.12 L199.43,103.17 L200.13,102.32 L200.39,101.18 L200.64,99.74 L201.45,98.64 L202.78,98.37 L204.13,98.66 L205.30,98.85 L206.44,98.83 L207.58,99.04 L208.54,99.69 L209.38,100.44 L210.42,101.00 L211.69,101.61 L212.56,102.66 L212.49,104.03 Z M208.20,105.30 L208.09,104.81 L208.07,104.29 L208.09,103.69 L208.04,103.00 L207.82,102.29 L207.38,101.69 L206.75,101.31 L206.02,101.24 L205.30,101.45 L204.69,101.86 L204.22,102.34 L203.85,102.78 L203.48,103.13 L203.04,103.41 L202.51,103.69 L201.94,104.08 L201.44,104.62 L201.13,105.30 L201.12,106.04 L201.42,106.71 L201.96,107.23 L202.62,107.55 L203.28,107.71 L203.85,107.82 L204.33,107.96 L204.79,108.20 L205.30,108.52 L205.92,108.82 L206.64,108.99 L207.38,108.91 L208.03,108.55 L208.46,107.95 L208.64,107.23 L208.58,106.50 L208.40,105.85 Z" fill="#3c1560" fill-rule="evenodd"/>
<path d="M205.30,105.30 L209.68,99.23 L212.39,102.93 Z" fill="#dccbe0"/>
<circle cx="221.3" cy="104.3" r="9.1" fill="#e4d4ee" opacity="0.75"/>
<circle cx="221.3" cy="104.3" r="8.1" fill="#dccbe0"/>
<path d="M227.59,104.30 L228.22,105.52 L228.64,106.97 L228.17,108.27 L226.99,109.07 L225.75,109.60 L224.73,110.24 L223.69,110.87 L222.49,111.07 L221.30,110.87 L220.15,110.82 L218.82,111.12 L217.32,111.19 L216.16,110.42 L215.72,108.99 L215.64,107.57 L215.28,106.49 L214.61,105.48 L214.20,104.30 L214.34,103.07 L214.69,101.90 L214.93,100.62 L215.32,99.28 L216.31,98.35 L217.77,98.19 L219.15,98.40 L220.22,98.20 L221.30,97.48 L222.60,96.94 L223.90,97.17 L224.97,97.95 L225.95,98.76 L226.97,99.55 L227.68,100.61 L227.75,101.95 L227.48,103.21 Z M225.45,104.30 L225.05,103.64 L224.52,103.13 L224.00,102.74 L223.57,102.40 L223.23,102.00 L222.91,101.50 L222.52,100.94 L221.99,100.40 L221.30,100.03 L220.53,99.95 L219.80,100.18 L219.22,100.70 L218.85,101.39 L218.68,102.10 L218.60,102.74 L218.52,103.29 L218.34,103.78 L218.07,104.30 L217.78,104.92 L217.58,105.65 L217.60,106.43 L217.91,107.14 L218.48,107.66 L219.22,107.90 L220.00,107.88 L220.71,107.67 L221.30,107.42 L221.81,107.22 L222.33,107.12 L222.91,107.10 L223.60,107.04 L224.33,106.84 L225.00,106.43 L225.46,105.81 L225.61,105.06 Z" fill="#3c1560" fill-rule="evenodd"/>
<circle cx="218.1" cy="118.1" r="9.1" fill="#e4d4ee" opacity="0.75"/>
<circle cx="218.1" cy="118.1" r="8.1" fill="#dccbe0"/>
<path d="M225.23,118.10 L225.27,119.36 L225.30,120.72 L224.80,121.97 L223.58,122.70 L222.19,122.97 L221.17,123.41 L220.39,124.40 L219.40,125.45 L218.10,125.83 L216.81,125.44 L215.64,124.85 L214.48,124.36 L213.41,123.69 L212.77,122.57 L212.55,121.30 L212.19,120.25 L211.29,119.30 L210.34,118.10 L210.19,116.71 L211.01,115.52 L212.12,114.65 L212.96,113.79 L213.67,112.83 L214.63,112.09 L215.80,111.78 L216.94,111.52 L218.10,110.94 L219.46,110.36 L220.85,110.56 L221.80,111.69 L222.32,113.07 L222.92,114.06 L223.88,114.77 L224.81,115.66 L225.22,116.84 Z M222.07,118.10 L222.31,117.36 L222.26,116.59 L221.89,115.91 L221.27,115.44 L220.54,115.20 L219.81,115.15 L219.16,115.18 L218.61,115.18 L218.10,115.09 L217.54,114.91 L216.87,114.72 L216.11,114.66 L215.35,114.82 L214.71,115.26 L214.31,115.91 L214.21,116.68 L214.37,117.44 L214.69,118.10 L215.04,118.64 L215.32,119.11 L215.49,119.60 L215.62,120.18 L215.79,120.85 L216.11,121.54 L216.64,122.12 L217.33,122.46 L218.10,122.47 L218.82,122.18 L219.40,121.66 L219.81,121.05 L220.10,120.48 L220.37,120.00 L220.71,119.60 L221.15,119.21 L221.64,118.72 Z" fill="#3c1560" fill-rule="evenodd"/>
<path d="M218.10,118.10 L221.59,125.09 L218.54,125.90 Z" fill="#dccbe0"/>
<ellipse cx="169.2" cy="93.5" rx="6.2" ry="4.8" fill="#4a2078" transform="rotate(25 169.2 93.5)"/>
<circle cx="165.5" cy="90.5" r="2.4" fill="#3c1468"/><circle cx="172.5" cy="96.5" r="2.4" fill="#3c1468"/><circle cx="170" cy="91" r="2" fill="#3c1468"/><circle cx="166" cy="96" r="1.8" fill="#3c1468"/><circle cx="168.8" cy="93.8" r="0.9" fill="#b898c8"/>
</g>
<g clip-path="url(#c3)">
<circle cx="249.2" cy="61.8" r="7.4" fill="#dccfe0" opacity="0.75"/>
<circle cx="249.2" cy="61.8" r="6.4" fill="#d6cdd0"/>
<path d="M255.07,61.80 L254.97,62.82 L254.23,63.63 L253.33,64.19 L252.80,64.82 L252.53,65.77 L252.07,66.77 L251.20,67.31 L250.18,67.34 L249.20,67.26 L248.24,67.24 L247.31,67.00 L246.58,66.33 L246.10,65.49 L245.51,64.90 L244.56,64.48 L243.59,63.84 L243.21,62.86 L243.54,61.80 L244.07,60.90 L244.39,60.05 L244.64,59.17 L245.17,58.42 L245.93,57.90 L246.65,57.38 L247.31,56.61 L248.15,55.86 L249.20,55.73 L250.16,56.35 L250.89,57.16 L251.60,57.64 L252.50,57.87 L253.38,58.29 L253.95,59.06 L254.29,59.95 L254.69,60.83 Z M252.01,61.80 L252.24,61.26 L252.30,60.67 L252.12,60.12 L251.72,59.68 L251.18,59.43 L250.60,59.37 L250.06,59.43 L249.60,59.51 L249.20,59.55 L248.80,59.51 L248.34,59.42 L247.80,59.37 L247.21,59.43 L246.68,59.68 L246.28,60.12 L246.10,60.67 L246.16,61.26 L246.39,61.80 L246.71,62.24 L247.02,62.59 L247.25,62.92 L247.42,63.29 L247.58,63.74 L247.80,64.23 L248.14,64.70 L248.63,65.04 L249.20,65.17 L249.77,65.04 L250.26,64.70 L250.60,64.23 L250.82,63.74 L250.98,63.29 L251.15,62.92 L251.38,62.59 L251.69,62.24 Z" fill="#2c1444" fill-rule="evenodd"/>
<path d="M249.20,61.80 L254.67,64.11 L253.00,66.36 Z" fill="#d6cdd0"/>
<circle cx="259.8" cy="66.5" r="9.4" fill="#dccfe0" opacity="0.75"/>
<circle cx="259.8" cy="66.5" r="8.4" fill="#d6cdd0"/>
<path d="M266.98,66.50 L267.71,67.89 L267.73,69.38 L266.71,70.49 L265.28,71.10 L264.14,71.67 L263.28,72.53 L262.29,73.34 L261.07,73.68 L259.80,73.68 L258.51,73.83 L257.05,74.04 L255.66,73.68 L254.81,72.45 L254.55,70.91 L254.24,69.71 L253.41,68.83 L252.42,67.80 L251.99,66.50 L252.25,65.17 L252.71,63.92 L253.10,62.63 L253.77,61.44 L254.99,60.77 L256.43,60.67 L257.61,60.49 L258.60,59.70 L259.80,58.69 L261.23,58.37 L262.52,59.02 L263.52,60.06 L264.46,60.94 L265.44,61.77 L266.10,62.86 L266.27,64.15 L266.39,65.34 Z M263.14,66.50 L262.87,65.96 L262.71,65.44 L262.63,64.87 L262.56,64.19 L262.37,63.44 L261.98,62.73 L261.36,62.20 L260.60,61.97 L259.80,62.07 L259.09,62.46 L258.53,63.02 L258.13,63.60 L257.79,64.11 L257.43,64.51 L256.97,64.87 L256.42,65.27 L255.87,65.81 L255.45,66.50 L255.29,67.29 L255.47,68.07 L255.96,68.71 L256.66,69.13 L257.42,69.34 L258.13,69.40 L258.73,69.43 L259.26,69.55 L259.80,69.77 L260.42,70.04 L261.17,70.25 L261.98,70.27 L262.74,70.01 L263.33,69.46 L263.64,68.71 L263.65,67.90 L263.45,67.14 Z" fill="#2c1444" fill-rule="evenodd"/>
<path d="M259.80,66.50 L261.60,74.44 L257.79,74.39 Z" fill="#d6cdd0"/>
<circle cx="269.4" cy="75.1" r="9.4" fill="#dccfe0" opacity="0.75"/>
<circle cx="269.4" cy="75.1" r="8.4" fill="#d6cdd0"/>
<path d="M277.56,75.10 L277.18,76.47 L276.04,77.52 L274.95,78.31 L274.45,79.33 L274.13,80.74 L273.37,81.98 L272.10,82.53 L270.72,82.58 L269.40,82.63 L268.07,82.66 L266.82,82.18 L265.92,81.13 L265.23,80.07 L264.23,79.44 L262.80,78.91 L261.60,77.94 L261.34,76.52 L261.86,75.10 L262.42,73.87 L262.70,72.66 L263.11,71.47 L263.96,70.53 L264.99,69.84 L265.86,68.97 L266.73,67.76 L267.94,66.84 L269.40,66.94 L270.67,67.90 L271.68,68.85 L272.76,69.28 L274.03,69.58 L275.13,70.29 L275.81,71.40 L276.37,72.56 L277.08,73.75 Z M272.62,75.10 L272.87,74.49 L273.08,73.76 L273.12,72.95 L272.88,72.18 L272.37,71.57 L271.64,71.22 L270.83,71.18 L270.06,71.38 L269.40,71.70 L268.85,72.00 L268.35,72.20 L267.79,72.31 L267.13,72.40 L266.40,72.58 L265.68,72.95 L265.13,73.54 L264.86,74.30 L264.93,75.10 L265.30,75.82 L265.85,76.39 L266.45,76.80 L266.99,77.12 L267.42,77.46 L267.79,77.89 L268.19,78.42 L268.72,78.96 L269.40,79.39 L270.19,79.58 L270.98,79.44 L271.64,78.98 L272.08,78.29 L272.29,77.53 L272.35,76.80 L272.36,76.18 L272.44,75.64 Z" fill="#2c1444" fill-rule="evenodd"/>
<circle cx="286.5" cy="74" r="9.4" fill="#dccfe0" opacity="0.75"/>
<circle cx="286.5" cy="74" r="8.4" fill="#d6cdd0"/>
<path d="M294.07,74.00 L293.12,75.17 L292.64,76.23 L292.58,77.51 L292.27,78.84 L291.39,79.82 L290.24,80.48 L289.11,81.16 L287.89,81.86 L286.50,81.97 L285.23,81.21 L284.26,80.15 L283.28,79.57 L281.93,79.45 L280.44,79.08 L279.49,78.05 L279.22,76.65 L279.18,75.29 L279.02,74.00 L279.09,72.69 L279.76,71.55 L280.74,70.67 L281.41,69.73 L281.77,68.36 L282.40,66.90 L283.64,66.14 L285.15,66.36 L286.50,66.92 L287.70,67.17 L288.95,67.27 L290.12,67.73 L291.03,68.60 L291.90,69.47 L293.06,70.21 L294.24,71.18 L294.67,72.56 Z M290.74,74.00 L290.95,73.22 L290.84,72.42 L290.40,71.75 L289.73,71.29 L288.97,71.06 L288.23,71.01 L287.59,71.02 L287.03,70.97 L286.50,70.81 L285.90,70.58 L285.18,70.37 L284.38,70.33 L283.59,70.54 L282.96,71.03 L282.60,71.75 L282.53,72.56 L282.72,73.33 L283.05,74.00 L283.37,74.55 L283.61,75.05 L283.74,75.59 L283.84,76.23 L284.02,76.96 L284.38,77.67 L284.95,78.25 L285.70,78.55 L286.50,78.51 L287.23,78.16 L287.81,77.60 L288.23,76.99 L288.54,76.43 L288.86,75.98 L289.26,75.59 L289.76,75.19 L290.30,74.67 Z" fill="#2c1444" fill-rule="evenodd"/>
<path d="M286.50,74.00 L283.64,81.62 L280.65,79.66 Z" fill="#d6cdd0"/>
<circle cx="303.6" cy="79.3" r="9.9" fill="#dccfe0" opacity="0.75"/>
<circle cx="303.6" cy="79.3" r="8.9" fill="#d6cdd0"/>
<path d="M311.35,79.30 L311.52,80.70 L311.07,82.02 L310.50,83.28 L310.00,84.67 L309.18,85.94 L307.77,86.52 L306.15,86.29 L304.78,86.01 L303.60,86.39 L302.22,87.14 L300.68,87.33 L299.37,86.62 L298.40,85.49 L297.47,84.45 L296.55,83.37 L296.10,82.03 L296.33,80.58 L296.66,79.30 L296.42,78.03 L295.85,76.48 L295.88,74.84 L296.93,73.71 L298.48,73.20 L299.85,72.80 L301.01,72.18 L302.26,71.67 L303.60,71.71 L304.88,72.04 L306.22,72.11 L307.81,72.01 L309.36,72.43 L310.22,73.75 L310.27,75.45 L310.22,76.89 L310.67,78.05 Z M307.83,79.30 L308.15,78.50 L308.18,77.63 L307.86,76.84 L307.24,76.25 L306.44,75.92 L305.59,75.85 L304.83,75.92 L304.18,76.01 L303.60,76.00 L303.00,75.89 L302.30,75.73 L301.49,75.64 L300.63,75.76 L299.87,76.17 L299.34,76.84 L299.13,77.67 L299.26,78.53 L299.61,79.30 L300.06,79.92 L300.46,80.44 L300.75,80.95 L300.95,81.53 L301.15,82.21 L301.49,82.96 L302.02,83.64 L302.75,84.10 L303.60,84.22 L304.43,83.98 L305.11,83.45 L305.59,82.75 L305.91,82.06 L306.16,81.45 L306.45,80.95 L306.85,80.48 L307.35,79.96 Z" fill="#2c1444" fill-rule="evenodd"/>
<circle cx="274.7" cy="93.2" r="9.4" fill="#dccfe0" opacity="0.75"/>
<circle cx="274.7" cy="93.2" r="8.4" fill="#d6cdd0"/>
<path d="M282.35,93.20 L281.91,94.47 L281.01,95.49 L280.33,96.45 L280.13,97.76 L279.84,99.33 L278.88,100.45 L277.41,100.66 L275.96,100.36 L274.70,100.23 L273.45,100.28 L272.22,100.00 L271.20,99.26 L270.26,98.49 L269.05,97.94 L267.66,97.26 L266.81,96.07 L266.99,94.56 L267.76,93.20 L268.23,92.06 L268.21,90.84 L268.30,89.51 L268.95,88.38 L269.95,87.53 L270.93,86.66 L271.97,85.70 L273.29,85.20 L274.70,85.63 L275.86,86.60 L276.88,87.21 L278.15,87.23 L279.64,87.31 L280.85,88.04 L281.44,89.31 L281.76,90.63 L282.15,91.89 Z M278.34,93.20 L277.95,92.63 L277.62,92.14 L277.39,91.65 L277.23,91.07 L277.05,90.40 L276.73,89.69 L276.20,89.07 L275.50,88.68 L274.70,88.61 L273.94,88.88 L273.32,89.40 L272.88,90.05 L272.58,90.67 L272.32,91.21 L272.01,91.65 L271.59,92.07 L271.10,92.57 L270.65,93.20 L270.37,93.96 L270.38,94.77 L270.73,95.49 L271.34,96.02 L272.10,96.30 L272.88,96.35 L273.57,96.30 L274.16,96.26 L274.70,96.31 L275.27,96.46 L275.95,96.63 L276.73,96.71 L277.53,96.57 L278.22,96.15 L278.67,95.49 L278.82,94.70 L278.68,93.90 Z" fill="#2c1444" fill-rule="evenodd"/>
<path d="M274.70,93.20 L266.68,94.59 L267.64,89.15 Z" fill="#d6cdd0"/>
<circle cx="285.4" cy="87.9" r="8.9" fill="#dccfe0" opacity="0.75"/>
<circle cx="285.4" cy="87.9" r="7.9" fill="#d6cdd0"/>
<path d="M291.49,87.90 L291.85,89.04 L292.35,90.43 L292.18,91.81 L291.13,92.71 L289.78,93.12 L288.64,93.51 L287.66,94.12 L286.57,94.56 L285.40,94.52 L284.27,94.29 L283.07,94.31 L281.65,94.39 L280.37,93.89 L279.75,92.64 L279.75,91.16 L279.68,89.98 L279.14,89.00 L278.53,87.90 L278.43,86.67 L278.85,85.52 L279.33,84.39 L279.77,83.18 L280.56,82.13 L281.84,81.74 L283.24,81.95 L284.37,82.06 L285.40,81.56 L286.64,80.88 L287.98,80.82 L289.07,81.54 L289.90,82.53 L290.74,83.42 L291.52,84.37 L291.85,85.55 L291.65,86.80 Z M289.70,87.90 L289.52,87.17 L289.07,86.57 L288.46,86.13 L287.84,85.85 L287.29,85.65 L286.84,85.41 L286.42,85.09 L285.97,84.68 L285.40,84.26 L284.71,83.97 L283.95,83.92 L283.25,84.17 L282.71,84.70 L282.41,85.39 L282.34,86.13 L282.41,86.81 L282.50,87.39 L282.53,87.90 L282.45,88.42 L282.32,89.02 L282.25,89.72 L282.34,90.46 L282.68,91.14 L283.25,91.63 L283.97,91.83 L284.72,91.74 L285.40,91.44 L285.95,91.04 L286.41,90.67 L286.84,90.39 L287.32,90.19 L287.91,90.00 L288.55,89.72 L289.15,89.26 L289.57,88.64 Z" fill="#2c1444" fill-rule="evenodd"/>
<circle cx="292.9" cy="97.5" r="8.9" fill="#dccfe0" opacity="0.75"/>
<circle cx="292.9" cy="97.5" r="7.9" fill="#d6cdd0"/>
<path d="M299.87,97.50 L300.14,98.78 L300.05,100.10 L299.16,101.11 L297.82,101.63 L296.72,102.05 L296.03,102.93 L295.30,104.10 L294.19,104.84 L292.90,104.82 L291.68,104.43 L290.49,104.11 L289.32,103.69 L288.44,102.82 L288.02,101.60 L287.67,100.52 L286.85,99.70 L285.73,98.76 L285.11,97.50 L285.48,96.19 L286.41,95.14 L287.21,94.21 L287.79,93.21 L288.55,92.31 L289.61,91.80 L290.71,91.48 L291.73,90.88 L292.90,90.07 L294.26,89.77 L295.46,90.48 L296.22,91.74 L296.85,92.79 L297.76,93.42 L298.79,94.10 L299.47,95.11 L299.69,96.30 Z M296.34,97.50 L295.96,96.96 L295.63,96.51 L295.40,96.06 L295.24,95.54 L295.06,94.92 L294.77,94.27 L294.29,93.68 L293.64,93.30 L292.90,93.21 L292.18,93.44 L291.60,93.92 L291.18,94.52 L290.90,95.12 L290.67,95.63 L290.40,96.06 L290.03,96.46 L289.59,96.92 L289.17,97.50 L288.90,98.21 L288.89,98.96 L289.18,99.65 L289.74,100.15 L290.45,100.42 L291.18,100.48 L291.84,100.42 L292.40,100.36 L292.90,100.39 L293.43,100.51 L294.05,100.66 L294.77,100.73 L295.51,100.61 L296.17,100.24 L296.62,99.65 L296.78,98.91 L296.66,98.16 Z" fill="#2c1444" fill-rule="evenodd"/>
<circle cx="305.7" cy="95.4" r="8.9" fill="#dccfe0" opacity="0.75"/>
<circle cx="305.7" cy="95.4" r="7.9" fill="#d6cdd0"/>
<path d="M313.49,95.40 L312.90,96.67 L311.77,97.61 L310.93,98.42 L310.57,99.49 L310.15,100.70 L309.28,101.59 L308.11,102.01 L306.92,102.33 L305.70,102.71 L304.40,102.75 L303.29,102.02 L302.56,100.84 L301.88,99.95 L300.80,99.51 L299.46,99.00 L298.56,98.00 L298.44,96.68 L298.72,95.40 L298.91,94.20 L299.13,93.01 L299.80,91.99 L300.83,91.32 L301.75,90.69 L302.39,89.67 L303.15,88.40 L304.34,87.67 L305.70,87.95 L306.87,88.76 L307.89,89.38 L308.99,89.71 L310.05,90.22 L310.81,91.11 L311.39,92.12 L312.17,93.04 L313.10,94.10 Z M308.62,95.40 L308.80,94.85 L308.98,94.21 L309.04,93.47 L308.88,92.73 L308.46,92.11 L307.83,91.72 L307.08,91.61 L306.34,91.77 L305.70,92.08 L305.18,92.42 L304.72,92.70 L304.24,92.87 L303.68,92.99 L303.03,93.16 L302.36,93.47 L301.80,93.98 L301.47,94.65 L301.45,95.40 L301.73,96.10 L302.23,96.66 L302.83,97.06 L303.38,97.34 L303.85,97.60 L304.24,97.93 L304.62,98.36 L305.09,98.84 L305.70,99.26 L306.42,99.49 L307.17,99.44 L307.83,99.08 L308.29,98.49 L308.53,97.77 L308.57,97.06 L308.54,96.43 L308.53,95.90 Z" fill="#2c1444" fill-rule="evenodd"/>
<circle cx="283.3" cy="105" r="8.4" fill="#dccfe0" opacity="0.75"/>
<circle cx="283.3" cy="105" r="7.4" fill="#d6cdd0"/>
<path d="M288.93,105.00 L289.49,106.09 L289.87,107.39 L289.46,108.56 L288.43,109.31 L287.35,109.83 L286.44,110.43 L285.48,110.98 L284.37,111.09 L283.30,110.86 L282.28,110.81 L281.08,111.11 L279.72,111.20 L278.66,110.53 L278.23,109.25 L278.14,107.98 L277.82,107.00 L277.26,106.07 L276.95,105.00 L277.11,103.91 L277.41,102.86 L277.56,101.69 L277.87,100.45 L278.76,99.59 L280.10,99.45 L281.35,99.65 L282.33,99.49 L283.30,98.88 L284.46,98.43 L285.61,98.65 L286.59,99.30 L287.52,99.98 L288.47,100.66 L289.12,101.64 L289.14,102.87 L288.86,104.02 Z M286.02,105.00 L286.20,104.49 L286.37,103.88 L286.42,103.20 L286.26,102.51 L285.87,101.94 L285.27,101.59 L284.57,101.51 L283.89,101.66 L283.30,101.95 L282.82,102.26 L282.39,102.50 L281.94,102.64 L281.41,102.75 L280.80,102.90 L280.18,103.20 L279.66,103.68 L279.37,104.31 L279.37,105.00 L279.64,105.65 L280.11,106.16 L280.66,106.53 L281.17,106.79 L281.59,107.04 L281.94,107.36 L282.29,107.76 L282.73,108.21 L283.30,108.60 L283.97,108.81 L284.66,108.75 L285.27,108.41 L285.69,107.85 L285.90,107.18 L285.94,106.53 L285.92,105.95 L285.93,105.46 Z" fill="#2c1444" fill-rule="evenodd"/>
<circle cx="265.1" cy="112.4" r="8.9" fill="#dccfe0" opacity="0.75"/>
<circle cx="265.1" cy="112.4" r="7.9" fill="#d6cdd0"/>
<path d="M272.50,112.40 L271.96,113.61 L271.53,114.74 L271.11,115.87 L270.32,116.78 L269.21,117.29 L268.19,117.75 L267.37,118.63 L266.39,119.74 L265.10,120.26 L263.80,119.76 L262.80,118.72 L261.92,117.91 L260.90,117.40 L259.91,116.75 L259.28,115.76 L258.88,114.66 L258.31,113.60 L257.61,112.40 L257.45,111.05 L258.24,109.90 L259.51,109.17 L260.49,108.53 L261.03,107.55 L261.63,106.39 L262.64,105.63 L263.87,105.42 L265.10,105.37 L266.36,105.24 L267.64,105.43 L268.62,106.31 L269.15,107.57 L269.65,108.58 L270.63,109.20 L271.88,109.93 L272.62,111.07 Z M269.25,112.40 L268.90,111.73 L268.38,111.21 L267.83,110.83 L267.34,110.52 L266.95,110.20 L266.61,109.78 L266.23,109.28 L265.74,108.77 L265.10,108.37 L264.36,108.21 L263.63,108.36 L263.02,108.80 L262.62,109.44 L262.43,110.16 L262.37,110.83 L262.35,111.40 L262.27,111.90 L262.08,112.40 L261.83,112.98 L261.64,113.66 L261.61,114.41 L261.84,115.13 L262.34,115.69 L263.02,116.00 L263.78,116.02 L264.49,115.84 L265.10,115.55 L265.61,115.28 L266.08,115.10 L266.61,115.02 L267.23,114.94 L267.92,114.77 L268.59,114.41 L269.10,113.85 L269.33,113.15 Z" fill="#2c1444" fill-rule="evenodd"/>
<path d="M265.10,112.40 L272.68,112.03 L272.09,115.35 Z" fill="#d6cdd0"/>
<circle cx="275.8" cy="109.2" r="8.9" fill="#dccfe0" opacity="0.75"/>
<circle cx="275.8" cy="109.2" r="7.9" fill="#d6cdd0"/>
<path d="M282.86,109.20 L282.72,110.42 L282.53,111.65 L281.87,112.70 L280.74,113.35 L279.68,113.82 L278.97,114.68 L278.25,115.93 L277.15,116.84 L275.80,116.80 L274.59,116.08 L273.54,115.41 L272.47,114.97 L271.44,114.39 L270.74,113.45 L270.27,112.40 L269.56,111.47 L268.58,110.47 L267.96,109.20 L268.34,107.89 L269.44,106.89 L270.44,106.11 L270.98,105.15 L271.46,104.03 L272.31,103.16 L273.44,102.73 L274.60,102.38 L275.80,101.90 L277.12,101.70 L278.31,102.32 L279.07,103.54 L279.63,104.63 L280.53,105.23 L281.79,105.74 L282.77,106.66 L283.04,107.92 Z M279.19,109.20 L279.51,108.55 L279.64,107.80 L279.51,107.06 L279.08,106.45 L278.44,106.06 L277.69,105.92 L276.97,105.99 L276.34,106.16 L275.80,106.30 L275.30,106.35 L274.75,106.31 L274.10,106.26 L273.38,106.32 L272.67,106.57 L272.09,107.06 L271.77,107.73 L271.76,108.49 L272.02,109.20 L272.44,109.79 L272.90,110.26 L273.29,110.65 L273.58,111.06 L273.82,111.55 L274.10,112.14 L274.51,112.74 L275.09,113.23 L275.80,113.48 L276.54,113.42 L277.20,113.06 L277.69,112.48 L277.99,111.81 L278.17,111.18 L278.31,110.65 L278.52,110.19 L278.83,109.73 Z" fill="#2c1444" fill-rule="evenodd"/>
<circle cx="323.8" cy="100.7" r="9.4" fill="#dccfe0" opacity="0.75"/>
<circle cx="323.8" cy="100.7" r="8.4" fill="#d6cdd0"/>
<path d="M330.94,100.70 L331.66,102.09 L331.51,103.51 L330.55,104.60 L329.44,105.43 L328.50,106.31 L327.50,107.12 L326.26,107.45 L324.97,107.35 L323.80,107.43 L322.52,107.98 L320.99,108.42 L319.61,107.96 L318.81,106.64 L318.44,105.20 L317.92,104.10 L317.15,103.12 L316.61,101.97 L316.60,100.70 L316.74,99.45 L316.67,98.11 L316.72,96.61 L317.48,95.40 L318.95,94.92 L320.46,94.92 L321.59,94.63 L322.59,93.81 L323.80,93.09 L325.15,93.06 L326.39,93.58 L327.59,94.13 L328.84,94.69 L329.82,95.65 L330.12,97.05 L329.97,98.45 L330.15,99.58 Z M327.43,100.70 L327.77,100.00 L327.91,99.20 L327.77,98.41 L327.32,97.75 L326.63,97.33 L325.83,97.18 L325.05,97.25 L324.38,97.43 L323.80,97.59 L323.26,97.65 L322.67,97.61 L321.98,97.56 L321.21,97.61 L320.45,97.89 L319.83,98.41 L319.48,99.13 L319.46,99.94 L319.74,100.70 L320.19,101.34 L320.68,101.83 L321.11,102.25 L321.43,102.69 L321.68,103.22 L321.98,103.84 L322.42,104.49 L323.04,105.01 L323.80,105.29 L324.60,105.23 L325.31,104.84 L325.83,104.22 L326.16,103.51 L326.34,102.83 L326.49,102.25 L326.71,101.76 L327.04,101.27 Z" fill="#2c1444" fill-rule="evenodd"/>
<circle cx="316.4" cy="113.5" r="9.4" fill="#dccfe0" opacity="0.75"/>
<circle cx="316.4" cy="113.5" r="8.4" fill="#d6cdd0"/>
<path d="M324.82,113.50 L324.40,114.91 L323.27,116.00 L322.28,116.90 L321.69,117.94 L321.05,119.04 L320.04,119.81 L318.85,120.23 L317.67,120.73 L316.40,121.42 L314.96,121.68 L313.68,120.96 L312.88,119.60 L312.26,118.44 L311.29,117.79 L310.02,117.18 L309.10,116.16 L308.83,114.83 L308.86,113.50 L308.81,112.16 L308.97,110.80 L309.80,109.69 L311.13,109.08 L312.29,108.60 L313.03,107.66 L313.79,106.33 L314.97,105.41 L316.40,105.45 L317.71,106.09 L318.89,106.66 L320.08,107.12 L321.11,107.88 L321.73,109.03 L322.17,110.17 L322.99,111.10 L324.15,112.13 Z M320.97,113.50 L320.93,112.70 L320.56,111.98 L319.95,111.45 L319.24,111.12 L318.55,110.94 L317.96,110.80 L317.46,110.59 L316.97,110.28 L316.40,109.91 L315.71,109.57 L314.91,109.41 L314.11,109.54 L313.44,109.97 L313.01,110.65 L312.85,111.45 L312.92,112.23 L313.11,112.92 L313.28,113.50 L313.35,114.04 L313.33,114.62 L313.29,115.30 L313.34,116.07 L313.60,116.83 L314.11,117.46 L314.83,117.83 L315.63,117.86 L316.40,117.60 L317.04,117.15 L317.54,116.64 L317.96,116.20 L318.39,115.87 L318.90,115.60 L319.51,115.30 L320.15,114.87 L320.68,114.26 Z" fill="#2c1444" fill-rule="evenodd"/>
<path d="M316.40,113.50 L309.05,110.00 L312.78,106.21 Z" fill="#d6cdd0"/>
<circle cx="335.6" cy="112.4" r="9.4" fill="#dccfe0" opacity="0.75"/>
<circle cx="335.6" cy="112.4" r="8.4" fill="#d6cdd0"/>
<path d="M342.56,112.40 L342.32,113.59 L342.46,114.90 L342.61,116.45 L342.05,117.81 L340.67,118.45 L339.11,118.48 L337.87,118.63 L336.80,119.20 L335.60,119.74 L334.31,119.71 L333.09,119.28 L331.84,118.91 L330.46,118.53 L329.33,117.66 L328.98,116.22 L329.25,114.71 L329.32,113.51 L328.76,112.40 L328.10,111.08 L328.13,109.68 L328.88,108.52 L329.83,107.56 L330.70,106.56 L331.74,105.71 L333.08,105.47 L334.43,105.79 L335.60,105.94 L336.82,105.49 L338.31,104.95 L339.77,105.18 L340.72,106.30 L341.22,107.68 L341.75,108.85 L342.40,109.92 L342.74,111.14 Z M338.82,112.40 L338.63,111.86 L338.56,111.32 L338.55,110.70 L338.50,109.97 L338.28,109.20 L337.84,108.52 L337.18,108.06 L336.39,107.92 L335.60,108.11 L334.92,108.54 L334.39,109.09 L333.99,109.61 L333.62,110.04 L333.19,110.38 L332.65,110.70 L332.05,111.11 L331.49,111.68 L331.12,112.40 L331.06,113.20 L331.33,113.95 L331.88,114.54 L332.60,114.92 L333.34,115.10 L333.99,115.19 L334.55,115.30 L335.05,115.50 L335.60,115.81 L336.26,116.12 L337.03,116.32 L337.84,116.28 L338.57,115.94 L339.08,115.32 L339.32,114.54 L339.28,113.74 L339.07,113.01 Z" fill="#2c1444" fill-rule="evenodd"/>
<circle cx="338.8" cy="128.4" r="9.4" fill="#dccfe0" opacity="0.75"/>
<circle cx="338.8" cy="128.4" r="8.4" fill="#d6cdd0"/>
<path d="M346.13,128.40 L346.29,129.72 L346.40,131.17 L345.85,132.47 L344.52,133.20 L343.05,133.47 L342.01,133.96 L341.20,134.99 L340.14,136.02 L338.80,136.34 L337.47,135.97 L336.22,135.48 L334.96,135.05 L333.85,134.30 L333.25,133.06 L333.08,131.70 L332.68,130.63 L331.70,129.65 L330.72,128.40 L330.62,126.96 L331.45,125.73 L332.52,124.78 L333.34,123.82 L334.13,122.83 L335.20,122.16 L336.44,121.93 L337.61,121.64 L338.80,120.94 L340.23,120.30 L341.67,120.53 L342.65,121.72 L343.22,123.13 L343.89,124.13 L344.87,124.89 L345.74,125.87 L346.08,127.12 Z M342.23,128.40 L342.55,127.74 L342.75,126.96 L342.69,126.15 L342.34,125.43 L341.71,124.93 L340.93,124.71 L340.13,124.75 L339.41,124.96 L338.80,125.20 L338.27,125.37 L337.72,125.43 L337.08,125.43 L336.35,125.48 L335.58,125.70 L334.91,126.15 L334.46,126.82 L334.34,127.61 L334.54,128.40 L334.98,129.07 L335.52,129.60 L336.03,130.00 L336.44,130.38 L336.77,130.82 L337.08,131.37 L337.50,131.98 L338.07,132.54 L338.80,132.90 L339.60,132.95 L340.35,132.66 L340.93,132.09 L341.30,131.37 L341.48,130.65 L341.57,130.00 L341.69,129.45 L341.92,128.95 Z" fill="#2c1444" fill-rule="evenodd"/>
<circle cx="354.8" cy="128.4" r="8.4" fill="#dccfe0" opacity="0.75"/>
<circle cx="354.8" cy="128.4" r="7.4" fill="#d6cdd0"/>
<path d="M360.74,128.40 L360.38,129.38 L360.46,130.46 L360.69,131.80 L360.37,133.07 L359.30,133.76 L357.98,133.90 L356.85,134.03 L355.86,134.40 L354.80,134.67 L353.73,134.49 L352.73,134.09 L351.65,133.86 L350.37,133.68 L349.25,133.06 L348.83,131.85 L349.06,130.49 L349.25,129.38 L348.97,128.40 L348.55,127.30 L348.60,126.14 L349.16,125.14 L349.82,124.22 L350.45,123.22 L351.32,122.37 L352.53,122.16 L353.77,122.56 L354.80,122.89 L355.81,122.66 L357.05,122.23 L358.31,122.33 L359.21,123.14 L359.79,124.21 L360.36,125.19 L360.92,126.17 L361.09,127.29 Z M358.73,128.40 L358.73,127.71 L358.44,127.07 L357.93,126.59 L357.31,126.29 L356.70,126.14 L356.16,126.04 L355.71,125.90 L355.28,125.66 L354.80,125.36 L354.21,125.07 L353.53,124.92 L352.84,125.00 L352.23,125.34 L351.83,125.91 L351.67,126.59 L351.72,127.28 L351.89,127.89 L352.07,128.40 L352.18,128.86 L352.19,129.35 L352.17,129.92 L352.21,130.57 L352.42,131.24 L352.84,131.80 L353.43,132.15 L354.13,132.22 L354.80,132.02 L355.37,131.63 L355.81,131.18 L356.16,130.76 L356.51,130.44 L356.93,130.19 L357.43,129.92 L357.97,129.56 L358.45,129.04 Z" fill="#2c1444" fill-rule="evenodd"/>
</g>
<line x1="144.5" y1="128.8" x2="156.5" y2="113.5" stroke="#111" stroke-width="1.2" />
<path d="M159.4,109.6 L152.8,113.6 L158.2,117.4 Z" fill="#111"/>
<rect x="123.80000000000001" y="139.2" width="13" height="3.8" fill="#000"/>
<rect x="234.3" y="139.2" width="13" height="3.8" fill="#000"/>
<rect x="344.1" y="139.2" width="13" height="3.8" fill="#000"/>
<rect x="27.5" y="25" width="330.1" height="33.5" fill="#e7e5da"/>
<line x1="137.3" y1="58.5" x2="137.3" y2="143.3" stroke="#c4c4bc" stroke-width="1.0" />
<line x1="247.8" y1="58.5" x2="247.8" y2="143.3" stroke="#8c8c88" stroke-width="1.0" />
<rect x="27.5" y="25" width="330.1" height="118.30000000000001" fill="none" stroke="#666" stroke-width="1"/>
<line x1="27.5" y1="58.5" x2="357.6" y2="58.5" stroke="#444" stroke-width="1.2" />
<line x1="137.3" y1="25" x2="137.3" y2="58.5" stroke="#333" stroke-width="1.1" />
<line x1="247.8" y1="25" x2="247.8" y2="58.5" stroke="#333" stroke-width="1.1" />
<text x="82.4" y="38.9" font-family="Liberation Serif" font-size="14" text-anchor="middle" font-weight="bold" fill="#000" >untreated</text>
<text x="82.4" y="54.9" font-family="Liberation Serif" font-size="14" text-anchor="middle" font-weight="normal" fill="#000" >0 hours</text>
<text x="192.55" y="38.9" font-family="Liberation Serif" font-size="14" text-anchor="middle" font-weight="bold" fill="#000" >untreated</text>
<text x="192.55" y="54.9" font-family="Liberation Serif" font-size="14" text-anchor="middle" font-weight="normal" fill="#000" >6 hours</text>
<text x="302.70000000000005" y="38.9" font-family="Liberation Serif" font-size="14" text-anchor="middle" font-weight="bold" fill="#000" >N6/8-AHA</text>
<text x="302.70000000000005" y="54.9" font-family="Liberation Serif" font-size="14" text-anchor="middle" font-weight="normal" fill="#000" >6 hours</text>
<text x="6.7" y="172.9" font-family="Liberation Sans" font-size="15.4" text-anchor="start" font-weight="bold" fill="#111" >B</text>
<line x1="60.5" y1="173.8" x2="60.5" y2="287.3" stroke="#000" stroke-width="1.5" />
<line x1="57.0" y1="176.8" x2="60.5" y2="176.8" stroke="#000" stroke-width="1.3" />
<text x="54.0" y="180.0" font-family="Liberation Sans" font-size="9.3" text-anchor="end" font-weight="normal" fill="#111" stroke="#111" stroke-width="0.3" >40</text>
<line x1="57.0" y1="204.3" x2="60.5" y2="204.3" stroke="#000" stroke-width="1.3" />
<text x="54.0" y="207.5" font-family="Liberation Sans" font-size="9.3" text-anchor="end" font-weight="normal" fill="#111" stroke="#111" stroke-width="0.3" >30</text>
<line x1="57.0" y1="231.7" x2="60.5" y2="231.7" stroke="#000" stroke-width="1.3" />
<text x="54.0" y="234.89999999999998" font-family="Liberation Sans" font-size="9.3" text-anchor="end" font-weight="normal" fill="#111" stroke="#111" stroke-width="0.3" >20</text>
<line x1="57.0" y1="259.2" x2="60.5" y2="259.2" stroke="#000" stroke-width="1.3" />
<text x="54.0" y="262.4" font-family="Liberation Sans" font-size="9.3" text-anchor="end" font-weight="normal" fill="#111" stroke="#111" stroke-width="0.3" >10</text>
<line x1="57.0" y1="286.6" x2="60.5" y2="286.6" stroke="#000" stroke-width="1.3" />
<text x="54.0" y="289.8" font-family="Liberation Sans" font-size="9.3" text-anchor="end" font-weight="normal" fill="#111" stroke="#111" stroke-width="0.3" >0</text>
<rect x="83.75" y="215.95" width="47.6" height="70.65000000000002" fill="#a5002b" stroke="#6e0020" stroke-width="0.9"/>
<line x1="107.5" y1="215.5" x2="107.5" y2="196.5" stroke="#000" stroke-width="1.3" />
<line x1="95.5" y1="196.5" x2="119.5" y2="196.5" stroke="#000" stroke-width="1.3" />
<rect x="154.95" y="247.95" width="47.6" height="38.65000000000002" fill="#2e4b7a" stroke="#1c2f52" stroke-width="0.9"/>
<line x1="178.7" y1="247.5" x2="178.7" y2="241.3" stroke="#000" stroke-width="1.3" />
<line x1="166.7" y1="241.3" x2="190.7" y2="241.3" stroke="#000" stroke-width="1.3" />
<line x1="59.8" y1="286.6" x2="225" y2="286.6" stroke="#000" stroke-width="1.5" />
<line x1="107.5" y1="286.6" x2="107.5" y2="290.1" stroke="#000" stroke-width="1.3" />
<line x1="178.7" y1="286.6" x2="178.7" y2="290.1" stroke="#000" stroke-width="1.3" />
<text x="107.5" y="302" font-family="Liberation Sans" font-size="9" text-anchor="middle" font-weight="normal" fill="#111" stroke="#111" stroke-width="0.3" >Media</text>
<text x="178.2" y="302" font-family="Liberation Sans" font-size="9" text-anchor="middle" font-weight="normal" fill="#111" stroke="#111" stroke-width="0.3" textLength="41.2" lengthAdjust="spacingAndGlyphs" >N6/8-AHA</text>
<text x="143.1" y="317.5" font-family="Liberation Sans" font-size="12.2" text-anchor="middle" font-weight="normal" fill="#111" stroke="#111" stroke-width="0.3" textLength="41.2" lengthAdjust="spacingAndGlyphs" >Condition</text>
<g transform="translate(33.2,230) rotate(-90)"><text x="0" y="3.60" font-family="Liberation Sans" font-size="10" text-anchor="middle" fill="#111" stroke="#111" stroke-width="0.3" textLength="75" lengthAdjust="spacingAndGlyphs">Annexin-V +ve %</text></g>
<text x="243.6" y="172.9" font-family="Liberation Sans" font-size="15.4" text-anchor="start" font-weight="bold" fill="#111" >C</text>
<line x1="297.8" y1="173.8" x2="297.8" y2="287.3" stroke="#000" stroke-width="1.5" />
<line x1="294.3" y1="176.8" x2="297.8" y2="176.8" stroke="#000" stroke-width="1.3" />
<text x="291.3" y="180.0" font-family="Liberation Sans" font-size="9.3" text-anchor="end" font-weight="normal" fill="#111" stroke="#111" stroke-width="0.3" >40</text>
<line x1="294.3" y1="204.3" x2="297.8" y2="204.3" stroke="#000" stroke-width="1.3" />
<text x="291.3" y="207.5" font-family="Liberation Sans" font-size="9.3" text-anchor="end" font-weight="normal" fill="#111" stroke="#111" stroke-width="0.3" >30</text>
<line x1="294.3" y1="231.7" x2="297.8" y2="231.7" stroke="#000" stroke-width="1.3" />
<text x="291.3" y="234.89999999999998" font-family="Liberation Sans" font-size="9.3" text-anchor="end" font-weight="normal" fill="#111" stroke="#111" stroke-width="0.3" >20</text>
<line x1="294.3" y1="259.2" x2="297.8" y2="259.2" stroke="#000" stroke-width="1.3" />
<text x="291.3" y="262.4" font-family="Liberation Sans" font-size="9.3" text-anchor="end" font-weight="normal" fill="#111" stroke="#111" stroke-width="0.3" >10</text>
<line x1="294.3" y1="286.6" x2="297.8" y2="286.6" stroke="#000" stroke-width="1.3" />
<text x="291.3" y="289.8" font-family="Liberation Sans" font-size="9.3" text-anchor="end" font-weight="normal" fill="#111" stroke="#111" stroke-width="0.3" >0</text>
<rect x="320.95" y="254.95" width="47.6" height="31.650000000000023" fill="#a5002b" stroke="#6e0020" stroke-width="0.9"/>
<line x1="344.7" y1="254.5" x2="344.7" y2="250.5" stroke="#000" stroke-width="1.3" />
<line x1="332.2" y1="250.5" x2="357.2" y2="250.5" stroke="#000" stroke-width="1.3" />
<rect x="391.75" y="205.45" width="47.800000000000004" height="81.15000000000002" fill="#2e4b7a" stroke="#1c2f52" stroke-width="0.9"/>
<line x1="415.6" y1="205" x2="415.6" y2="196.5" stroke="#000" stroke-width="1.3" />
<line x1="403.6" y1="196.5" x2="427.6" y2="196.5" stroke="#000" stroke-width="1.3" />
<text x="415.6" y="195.5" font-family="Liberation Sans" font-size="10" text-anchor="middle" font-weight="normal" fill="#111" stroke="#111" stroke-width="0.3" >**</text>
<line x1="297.1" y1="286.6" x2="462.5" y2="286.6" stroke="#000" stroke-width="1.5" />
<line x1="344.7" y1="286.6" x2="344.7" y2="290.1" stroke="#000" stroke-width="1.3" />
<line x1="415.6" y1="286.6" x2="415.6" y2="290.1" stroke="#000" stroke-width="1.3" />
<text x="344.7" y="302" font-family="Liberation Sans" font-size="9" text-anchor="middle" font-weight="normal" fill="#111" stroke="#111" stroke-width="0.3" >Media</text>
<text x="415.2" y="302" font-family="Liberation Sans" font-size="9" text-anchor="middle" font-weight="normal" fill="#111" stroke="#111" stroke-width="0.3" textLength="41.2" lengthAdjust="spacingAndGlyphs" >N6/8-AHA</text>
<text x="380.2" y="317.5" font-family="Liberation Sans" font-size="12.2" text-anchor="middle" font-weight="normal" fill="#111" stroke="#111" stroke-width="0.3" textLength="41.2" lengthAdjust="spacingAndGlyphs" >Condition</text>
<g transform="translate(270.5,230) rotate(-90)"><text x="0" y="3.6" font-family="Liberation Sans" font-size="10" text-anchor="middle" fill="#111" stroke="#111" stroke-width="0.3" textLength="75" lengthAdjust="spacingAndGlyphs">Viable cells × 10<tspan font-size="6.5" dy="-4">4</tspan></text></g>
<text x="6.4" y="349.3" font-family="Liberation Sans" font-size="15.4" text-anchor="start" font-weight="bold" fill="#111" >D</text>
<line x1="60.5" y1="350.5" x2="60.5" y2="458.2" stroke="#000" stroke-width="1.5" />
<line x1="57.0" y1="353.0" x2="60.5" y2="353.0" stroke="#000" stroke-width="1.3" />
<text x="54.0" y="356.2" font-family="Liberation Sans" font-size="9.3" text-anchor="end" font-weight="normal" fill="#111" stroke="#111" stroke-width="0.3" >1000</text>
<line x1="57.0" y1="405.25" x2="60.5" y2="405.25" stroke="#000" stroke-width="1.3" />
<text x="54.0" y="408.45" font-family="Liberation Sans" font-size="9.3" text-anchor="end" font-weight="normal" fill="#111" stroke="#111" stroke-width="0.3" >100</text>
<line x1="57.0" y1="457.5" x2="60.5" y2="457.5" stroke="#000" stroke-width="1.3" />
<text x="54.0" y="460.7" font-family="Liberation Sans" font-size="9.3" text-anchor="end" font-weight="normal" fill="#111" stroke="#111" stroke-width="0.3" >10</text>
<line x1="58.5" y1="389.52118272655696" x2="60.5" y2="389.52118272655696" stroke="#000" stroke-width="0.8" />
<line x1="58.5" y1="380.32041444089765" x2="60.5" y2="380.32041444089765" stroke="#000" stroke-width="0.8" />
<line x1="58.5" y1="373.792365453114" x2="60.5" y2="373.792365453114" stroke="#000" stroke-width="0.8" />
<line x1="58.5" y1="368.72881727344304" x2="60.5" y2="368.72881727344304" stroke="#000" stroke-width="0.8" />
<line x1="58.5" y1="364.5915971674546" x2="60.5" y2="364.5915971674546" stroke="#000" stroke-width="0.8" />
<line x1="58.5" y1="361.0936274092551" x2="60.5" y2="361.0936274092551" stroke="#000" stroke-width="0.8" />
<line x1="58.5" y1="358.06354817967093" x2="60.5" y2="358.06354817967093" stroke="#000" stroke-width="0.8" />
<line x1="58.5" y1="355.3908288817953" x2="60.5" y2="355.3908288817953" stroke="#000" stroke-width="0.8" />
<line x1="58.5" y1="441.77118272655696" x2="60.5" y2="441.77118272655696" stroke="#000" stroke-width="0.8" />
<line x1="58.5" y1="432.57041444089765" x2="60.5" y2="432.57041444089765" stroke="#000" stroke-width="0.8" />
<line x1="58.5" y1="426.042365453114" x2="60.5" y2="426.042365453114" stroke="#000" stroke-width="0.8" />
<line x1="58.5" y1="420.97881727344304" x2="60.5" y2="420.97881727344304" stroke="#000" stroke-width="0.8" />
<line x1="58.5" y1="416.8415971674546" x2="60.5" y2="416.8415971674546" stroke="#000" stroke-width="0.8" />
<line x1="58.5" y1="413.3436274092551" x2="60.5" y2="413.3436274092551" stroke="#000" stroke-width="0.8" />
<line x1="58.5" y1="410.31354817967093" x2="60.5" y2="410.31354817967093" stroke="#000" stroke-width="0.8" />
<line x1="58.5" y1="407.6408288817953" x2="60.5" y2="407.6408288817953" stroke="#000" stroke-width="0.8" />
<line x1="59.8" y1="457.5" x2="218.75" y2="457.5" stroke="#000" stroke-width="1.5" />
<line x1="80.5" y1="457.5" x2="80.5" y2="461.0" stroke="#000" stroke-width="1.3" />
<line x1="120" y1="457.5" x2="120" y2="461.0" stroke="#000" stroke-width="1.3" />
<line x1="159.5" y1="457.5" x2="159.5" y2="461.0" stroke="#000" stroke-width="1.3" />
<line x1="198.75" y1="457.5" x2="198.75" y2="461.0" stroke="#000" stroke-width="1.3" />
<text x="80.5" y="473" font-family="Liberation Sans" font-size="9.4" text-anchor="middle" font-weight="normal" fill="#111" stroke="#111" stroke-width="0.3" >1</text>
<text x="120" y="473" font-family="Liberation Sans" font-size="9.4" text-anchor="middle" font-weight="normal" fill="#111" stroke="#111" stroke-width="0.3" >2</text>
<text x="159.5" y="473" font-family="Liberation Sans" font-size="9.4" text-anchor="middle" font-weight="normal" fill="#111" stroke="#111" stroke-width="0.3" >3</text>
<text x="198.75" y="473" font-family="Liberation Sans" font-size="9.4" text-anchor="middle" font-weight="normal" fill="#111" stroke="#111" stroke-width="0.3" >4</text>
<text x="140" y="488.8" font-family="Liberation Sans" font-size="12.2" text-anchor="middle" font-weight="normal" fill="#111" stroke="#111" stroke-width="0.3" textLength="52.5" lengthAdjust="spacingAndGlyphs" >Time [Days]</text>
<line x1="80.5" y1="407.5" x2="80.5" y2="402.5" stroke="#000" stroke-width="1.3" />
<line x1="77.5" y1="402.5" x2="83.5" y2="402.5" stroke="#000" stroke-width="1.3" />
<line x1="120" y1="400.75" x2="120" y2="397.5" stroke="#000" stroke-width="1.3" />
<line x1="117" y1="397.5" x2="123" y2="397.5" stroke="#000" stroke-width="1.3" />
<line x1="159.5" y1="390.75" x2="159.5" y2="387.5" stroke="#000" stroke-width="1.3" />
<line x1="156.5" y1="387.5" x2="162.5" y2="387.5" stroke="#000" stroke-width="1.3" />
<line x1="198.75" y1="370.75" x2="198.75" y2="364.5" stroke="#000" stroke-width="1.3" />
<line x1="195.75" y1="364.5" x2="201.75" y2="364.5" stroke="#000" stroke-width="1.3" />
<line x1="159.5" y1="409.25" x2="159.5" y2="406.25" stroke="#000" stroke-width="1.3" />
<line x1="156.5" y1="406.25" x2="162.5" y2="406.25" stroke="#000" stroke-width="1.3" />
<line x1="198.75" y1="393.75" x2="198.75" y2="386.5" stroke="#000" stroke-width="1.3" />
<line x1="195.75" y1="386.5" x2="201.75" y2="386.5" stroke="#000" stroke-width="1.3" />
<polyline points="80.5,407.5 120,400.75 159.5,390.75 198.75,370.75" fill="none" stroke="#a5002b" stroke-width="2.0"/>
<circle cx="80.5" cy="407.5" r="2.3" fill="#a5002b"/>
<circle cx="120" cy="400.75" r="2.3" fill="#a5002b"/>
<circle cx="159.5" cy="390.75" r="2.3" fill="#a5002b"/>
<circle cx="198.75" cy="370.75" r="2.3" fill="#a5002b"/>
<polyline points="80.5,409.5 120,418.75 159.5,409.25 198.75,393.75" fill="none" stroke="#2e4b7a" stroke-width="2.0" stroke-dasharray="3.6 1.8"/>
<rect x="78.2" y="407.2" width="4.6" height="4.6" fill="#2e4b7a"/>
<rect x="117.7" y="416.45" width="4.6" height="4.6" fill="#2e4b7a"/>
<rect x="157.2" y="406.95" width="4.6" height="4.6" fill="#2e4b7a"/>
<rect x="196.45" y="391.45" width="4.6" height="4.6" fill="#2e4b7a"/>
<text x="199" y="386" font-family="Liberation Sans" font-size="10" text-anchor="middle" font-weight="normal" fill="#111" stroke="#111" stroke-width="0.3" >***</text>
<line x1="68.75" y1="354.25" x2="82.5" y2="354.25" stroke="#a5002b" stroke-width="2"/>
<circle cx="75.625" cy="354.25" r="2" fill="#a5002b"/>
<text x="85" y="357.35" font-family="Liberation Sans" font-size="8.6" text-anchor="start" font-weight="normal" fill="#111" stroke="#111" stroke-width="0.3" >siScrbl</text>
<line x1="68.75" y1="367.5" x2="82.5" y2="367.5" stroke="#2e4b7a" stroke-width="2" stroke-dasharray="3.6 1.8"/>
<rect x="73.625" y="365.5" width="4" height="4" fill="#2e4b7a"/>
<text x="85" y="370.6" font-family="Liberation Sans" font-size="8.6" text-anchor="start" font-weight="normal" fill="#111" stroke="#111" stroke-width="0.3" >siNR4A2</text>
<g transform="translate(22.2,403.5) rotate(-90)"><text x="0" y="3.78" font-family="Liberation Sans" font-size="10.5" text-anchor="middle" fill="#111" stroke="#111" stroke-width="0.3" textLength="68.75" lengthAdjust="spacingAndGlyphs">Total cells × 10<tspan font-size="6.5" dy="-4">4</tspan></text></g>
<text x="244.3" y="349.3" font-family="Liberation Sans" font-size="15.4" text-anchor="start" font-weight="bold" fill="#111" >E</text>
<line x1="296.5" y1="349.5" x2="296.5" y2="457.4" stroke="#000" stroke-width="1.5" />
<line x1="293.0" y1="352.2" x2="296.5" y2="352.2" stroke="#000" stroke-width="1.3" />
<text x="290.0" y="355.4" font-family="Liberation Sans" font-size="9.3" text-anchor="end" font-weight="normal" fill="#111" stroke="#111" stroke-width="0.3" >1000</text>
<line x1="293.0" y1="404.45" x2="296.5" y2="404.45" stroke="#000" stroke-width="1.3" />
<text x="290.0" y="407.65" font-family="Liberation Sans" font-size="9.3" text-anchor="end" font-weight="normal" fill="#111" stroke="#111" stroke-width="0.3" >100</text>
<line x1="293.0" y1="456.7" x2="296.5" y2="456.7" stroke="#000" stroke-width="1.3" />
<text x="290.0" y="459.9" font-family="Liberation Sans" font-size="9.3" text-anchor="end" font-weight="normal" fill="#111" stroke="#111" stroke-width="0.3" >10</text>
<line x1="294.5" y1="388.72118272655695" x2="296.5" y2="388.72118272655695" stroke="#000" stroke-width="0.8" />
<line x1="294.5" y1="379.52041444089764" x2="296.5" y2="379.52041444089764" stroke="#000" stroke-width="0.8" />
<line x1="294.5" y1="372.99236545311396" x2="296.5" y2="372.99236545311396" stroke="#000" stroke-width="0.8" />
<line x1="294.5" y1="367.928817273443" x2="296.5" y2="367.928817273443" stroke="#000" stroke-width="0.8" />
<line x1="294.5" y1="363.7915971674546" x2="296.5" y2="363.7915971674546" stroke="#000" stroke-width="0.8" />
<line x1="294.5" y1="360.29362740925507" x2="296.5" y2="360.29362740925507" stroke="#000" stroke-width="0.8" />
<line x1="294.5" y1="357.2635481796709" x2="296.5" y2="357.2635481796709" stroke="#000" stroke-width="0.8" />
<line x1="294.5" y1="354.59082888179523" x2="296.5" y2="354.59082888179523" stroke="#000" stroke-width="0.8" />
<line x1="294.5" y1="440.97118272655695" x2="296.5" y2="440.97118272655695" stroke="#000" stroke-width="0.8" />
<line x1="294.5" y1="431.77041444089764" x2="296.5" y2="431.77041444089764" stroke="#000" stroke-width="0.8" />
<line x1="294.5" y1="425.24236545311396" x2="296.5" y2="425.24236545311396" stroke="#000" stroke-width="0.8" />
<line x1="294.5" y1="420.178817273443" x2="296.5" y2="420.178817273443" stroke="#000" stroke-width="0.8" />
<line x1="294.5" y1="416.0415971674546" x2="296.5" y2="416.0415971674546" stroke="#000" stroke-width="0.8" />
<line x1="294.5" y1="412.54362740925507" x2="296.5" y2="412.54362740925507" stroke="#000" stroke-width="0.8" />
<line x1="294.5" y1="409.5135481796709" x2="296.5" y2="409.5135481796709" stroke="#000" stroke-width="0.8" />
<line x1="294.5" y1="406.84082888179523" x2="296.5" y2="406.84082888179523" stroke="#000" stroke-width="0.8" />
<line x1="295.8" y1="457.3" x2="457.5" y2="457.3" stroke="#000" stroke-width="1.5" />
<line x1="317.5" y1="457.3" x2="317.5" y2="460.8" stroke="#000" stroke-width="1.3" />
<line x1="357.7" y1="457.3" x2="357.7" y2="460.8" stroke="#000" stroke-width="1.3" />
<line x1="397.7" y1="457.3" x2="397.7" y2="460.8" stroke="#000" stroke-width="1.3" />
<line x1="438" y1="457.3" x2="438" y2="460.8" stroke="#000" stroke-width="1.3" />
<text x="317.5" y="473" font-family="Liberation Sans" font-size="9.4" text-anchor="middle" font-weight="normal" fill="#111" stroke="#111" stroke-width="0.3" >1</text>
<text x="357.7" y="473" font-family="Liberation Sans" font-size="9.4" text-anchor="middle" font-weight="normal" fill="#111" stroke="#111" stroke-width="0.3" >2</text>
<text x="397.7" y="473" font-family="Liberation Sans" font-size="9.4" text-anchor="middle" font-weight="normal" fill="#111" stroke="#111" stroke-width="0.3" >3</text>
<text x="438" y="473" font-family="Liberation Sans" font-size="9.4" text-anchor="middle" font-weight="normal" fill="#111" stroke="#111" stroke-width="0.3" >4</text>
<text x="377.4" y="488.8" font-family="Liberation Sans" font-size="12.2" text-anchor="middle" font-weight="normal" fill="#111" stroke="#111" stroke-width="0.3" textLength="52.5" lengthAdjust="spacingAndGlyphs" >Time [Days]</text>
<line x1="317.5" y1="401.75" x2="317.5" y2="397" stroke="#000" stroke-width="1.3" />
<line x1="314.5" y1="397" x2="320.5" y2="397" stroke="#000" stroke-width="1.3" />
<line x1="357.7" y1="403" x2="357.7" y2="397.5" stroke="#000" stroke-width="1.3" />
<line x1="354.7" y1="397.5" x2="360.7" y2="397.5" stroke="#000" stroke-width="1.3" />
<line x1="397.7" y1="394.5" x2="397.7" y2="387.5" stroke="#000" stroke-width="1.3" />
<line x1="394.7" y1="387.5" x2="400.7" y2="387.5" stroke="#000" stroke-width="1.3" />
<line x1="397.7" y1="400" x2="397.7" y2="390.5" stroke="#000" stroke-width="1.3" />
<line x1="394.7" y1="390.5" x2="400.7" y2="390.5" stroke="#000" stroke-width="1.3" />
<line x1="438" y1="378.75" x2="438" y2="363" stroke="#000" stroke-width="1.3" />
<line x1="435" y1="363" x2="441" y2="363" stroke="#000" stroke-width="1.3" />
<line x1="438" y1="373.75" x2="438" y2="368" stroke="#000" stroke-width="1.3" />
<line x1="435" y1="368" x2="441" y2="368" stroke="#000" stroke-width="1.3" />
<polyline points="317.5,401.75 357.7,403 397.7,394.5 438,378.75" fill="none" stroke="#a5002b" stroke-width="2.0"/>
<path d="M317.5,398.99 L320.26,404.05 L314.74,404.05 Z" fill="#a5002b"/>
<path d="M357.7,400.24 L360.46,405.3 L354.94,405.3 Z" fill="#a5002b"/>
<path d="M397.7,391.74 L400.46,396.8 L394.94,396.8 Z" fill="#a5002b"/>
<path d="M438,375.99 L440.76,381.05 L435.24,381.05 Z" fill="#a5002b"/>
<polyline points="317.5,402 357.7,410 397.7,400 438,373.75" fill="none" stroke="#68aa48" stroke-width="2.0" stroke-dasharray="3.6 1.8"/>
<rect x="315.2" y="399.7" width="4.6" height="4.6" fill="#68aa48"/>
<rect x="355.4" y="407.7" width="4.6" height="4.6" fill="#68aa48"/>
<rect x="395.4" y="397.7" width="4.6" height="4.6" fill="#68aa48"/>
<rect x="435.7" y="371.45" width="4.6" height="4.6" fill="#68aa48"/>
<line x1="306.25" y1="353.75" x2="320" y2="353.75" stroke="#a5002b" stroke-width="2"/>
<path d="M313.125,351.35 L315.525,355.75 L310.725,355.75 Z" fill="#a5002b"/>
<text x="322.5" y="356.85" font-family="Liberation Sans" font-size="8.6" text-anchor="start" font-weight="normal" fill="#111" stroke="#111" stroke-width="0.3" >siScrbl</text>
<line x1="306.25" y1="367" x2="320" y2="367" stroke="#68aa48" stroke-width="2" stroke-dasharray="3.6 1.8"/>
<rect x="311.125" y="365" width="4" height="4" fill="#68aa48"/>
<text x="322.5" y="370.1" font-family="Liberation Sans" font-size="8.6" text-anchor="start" font-weight="normal" fill="#111" stroke="#111" stroke-width="0.3" >siNR4A3</text>
<g transform="translate(260.0,403.8) rotate(-90)"><text x="0" y="3.78" font-family="Liberation Sans" font-size="10.5" text-anchor="middle" fill="#111" stroke="#111" stroke-width="0.3" textLength="68.75" lengthAdjust="spacingAndGlyphs">Total cells × 10<tspan font-size="6.5" dy="-4">4</tspan></text></g>
<text x="7.6" y="520.5" font-family="Liberation Sans" font-size="15.4" text-anchor="start" font-weight="bold" fill="#111" >F</text>
<line x1="60.5" y1="520.5" x2="60.5" y2="622.0" stroke="#000" stroke-width="1.5" />
<line x1="57.0" y1="523.8" x2="60.5" y2="523.8" stroke="#000" stroke-width="1.3" />
<text x="54.0" y="527.0" font-family="Liberation Sans" font-size="9.3" text-anchor="end" font-weight="normal" fill="#111" stroke="#111" stroke-width="0.3" >100</text>
<line x1="57.0" y1="572.5" x2="60.5" y2="572.5" stroke="#000" stroke-width="1.3" />
<text x="54.0" y="575.7" font-family="Liberation Sans" font-size="9.3" text-anchor="end" font-weight="normal" fill="#111" stroke="#111" stroke-width="0.3" >50</text>
<line x1="57.0" y1="621.3" x2="60.5" y2="621.3" stroke="#000" stroke-width="1.3" />
<text x="54.0" y="624.5" font-family="Liberation Sans" font-size="9.3" text-anchor="end" font-weight="normal" fill="#111" stroke="#111" stroke-width="0.3" >0</text>
<line x1="59.8" y1="621.3" x2="209.8" y2="621.3" stroke="#000" stroke-width="1.5" />
<line x1="60.5" y1="621.3" x2="60.5" y2="624.8" stroke="#000" stroke-width="1.3" />
<line x1="97" y1="621.3" x2="97" y2="624.8" stroke="#000" stroke-width="1.3" />
<line x1="133.6" y1="621.3" x2="133.6" y2="624.8" stroke="#000" stroke-width="1.3" />
<line x1="170.3" y1="621.3" x2="170.3" y2="624.8" stroke="#000" stroke-width="1.3" />
<line x1="207" y1="621.3" x2="207" y2="624.8" stroke="#000" stroke-width="1.3" />
<text x="60.5" y="636.5" font-family="Liberation Sans" font-size="9.4" text-anchor="middle" font-weight="normal" fill="#111" stroke="#111" stroke-width="0.3" >1</text>
<text x="97" y="636.5" font-family="Liberation Sans" font-size="9.4" text-anchor="middle" font-weight="normal" fill="#111" stroke="#111" stroke-width="0.3" >2</text>
<text x="133.6" y="636.5" font-family="Liberation Sans" font-size="9.4" text-anchor="middle" font-weight="normal" fill="#111" stroke="#111" stroke-width="0.3" >3</text>
<text x="170.3" y="636.5" font-family="Liberation Sans" font-size="9.4" text-anchor="middle" font-weight="normal" fill="#111" stroke="#111" stroke-width="0.3" >4</text>
<text x="207" y="636.5" font-family="Liberation Sans" font-size="9.4" text-anchor="middle" font-weight="normal" fill="#111" stroke="#111" stroke-width="0.3" >5</text>
<text x="135.5" y="652" font-family="Liberation Sans" font-size="12.2" text-anchor="middle" font-weight="normal" fill="#111" stroke="#111" stroke-width="0.3" textLength="16" lengthAdjust="spacingAndGlyphs" >Day</text>
<polyline points="97,593.3 133.6,551.2 170.3,525.8" fill="none" stroke="#2e4b7a" stroke-width="2.0" stroke-dasharray="3.6 1.8"/>
<rect x="94.7" y="591.0" width="4.6" height="4.6" fill="#2e4b7a"/>
<rect x="131.29999999999998" y="548.9000000000001" width="4.6" height="4.6" fill="#2e4b7a"/>
<rect x="168.0" y="523.5" width="4.6" height="4.6" fill="#2e4b7a"/>
<polyline points="97,586.3 133.6,558.4 170.3,525.8" fill="none" stroke="#a5002b" stroke-width="2.0"/>
<circle cx="97" cy="586.3" r="2.3" fill="#a5002b"/>
<circle cx="133.6" cy="558.4" r="2.3" fill="#a5002b"/>
<circle cx="170.3" cy="525.8" r="2.3" fill="#a5002b"/>
<line x1="160.8" y1="550.6" x2="172.9" y2="550.6" stroke="#a5002b" stroke-width="2"/>
<circle cx="166.85000000000002" cy="550.6" r="2" fill="#a5002b"/>
<text x="176" y="553.7" font-family="Liberation Sans" font-size="8.6" text-anchor="start" font-weight="normal" fill="#111" stroke="#111" stroke-width="0.3" >siScrbl</text>
<line x1="160.8" y1="564.1" x2="172.9" y2="564.1" stroke="#2e4b7a" stroke-width="2" stroke-dasharray="3.6 1.8"/>
<rect x="164.85000000000002" y="562.1" width="4" height="4" fill="#2e4b7a"/>
<text x="176" y="567.2" font-family="Liberation Sans" font-size="8.6" text-anchor="start" font-weight="normal" fill="#111" stroke="#111" stroke-width="0.3" >siNR4A2</text>
<line x1="160.8" y1="577.1" x2="172.9" y2="577.1" stroke="#68aa48" stroke-width="2" stroke-dasharray="3.6 1.8"/>
<path d="M166.85000000000002,574.7 L169.25000000000003,579.1 L164.45000000000002,579.1 Z" fill="#68aa48"/>
<text x="176" y="580.2" font-family="Liberation Sans" font-size="8.6" text-anchor="start" font-weight="normal" fill="#111" stroke="#111" stroke-width="0.3" >siNR4A3</text>
<g transform="translate(27.5,570.6) rotate(-90)"><text x="0" y="3.78" font-family="Liberation Sans" font-size="10.5" text-anchor="middle" fill="#111" stroke="#111" stroke-width="0.3" textLength="61.2" lengthAdjust="spacingAndGlyphs">% neutrophils</text></g>
<text x="243.2" y="520.3" font-family="Liberation Sans" font-size="15.4" text-anchor="start" font-weight="bold" fill="#111" >G</text>
<line x1="298" y1="523" x2="298" y2="621.9000000000001" stroke="#000" stroke-width="1.5" />
<line x1="294.5" y1="526" x2="298" y2="526" stroke="#000" stroke-width="1.3" />
<text x="291.5" y="529.2" font-family="Liberation Sans" font-size="9.3" text-anchor="end" font-weight="normal" fill="#111" stroke="#111" stroke-width="0.3" >100</text>
<line x1="294.5" y1="573.6" x2="298" y2="573.6" stroke="#000" stroke-width="1.3" />
<text x="291.5" y="576.8000000000001" font-family="Liberation Sans" font-size="9.3" text-anchor="end" font-weight="normal" fill="#111" stroke="#111" stroke-width="0.3" >50</text>
<line x1="294.5" y1="621.2" x2="298" y2="621.2" stroke="#000" stroke-width="1.3" />
<text x="291.5" y="624.4000000000001" font-family="Liberation Sans" font-size="9.3" text-anchor="end" font-weight="normal" fill="#111" stroke="#111" stroke-width="0.3" >0</text>
<rect x="303.34999999999997" y="532.162" width="12.6" height="89.038" fill="#a5002b" stroke="#6e0020" stroke-width="0.9"/>
<line x1="309.65" y1="531.712" x2="309.65" y2="527.428" stroke="#000" stroke-width="1.3" />
<line x1="305.45" y1="527.428" x2="313.84999999999997" y2="527.428" stroke="#000" stroke-width="1.3" />
<rect x="322.65" y="616.4140000000001" width="12.1" height="4.7860000000000005" fill="#2e4b7a" stroke="#1c2f52" stroke-width="0.9"/>
<line x1="328.7" y1="615.964" x2="328.7" y2="612.1560000000001" stroke="#000" stroke-width="1.3" />
<line x1="324.5" y1="612.1560000000001" x2="332.9" y2="612.1560000000001" stroke="#000" stroke-width="1.3" />
<rect x="352.95" y="529.306" width="12.6" height="91.894" fill="#a5002b" stroke="#6e0020" stroke-width="0.9"/>
<line x1="359.25" y1="528.856" x2="359.25" y2="528.1896" stroke="#000" stroke-width="1.3" />
<line x1="355.05" y1="528.1896" x2="363.45" y2="528.1896" stroke="#000" stroke-width="1.3" />
<rect x="371.2" y="620.0576000000001" width="13" height="1.1424" fill="#2e4b7a"/>
<line x1="377.7" y1="620.0576000000001" x2="377.7" y2="619.1056000000001" stroke="#000" stroke-width="1.3" />
<line x1="373.5" y1="619.1056000000001" x2="381.9" y2="619.1056000000001" stroke="#000" stroke-width="1.3" />
<rect x="402.15" y="530.6388000000001" width="12.6" height="90.5612" fill="#a5002b" stroke="#6e0020" stroke-width="0.9"/>
<line x1="408.45" y1="530.1888" x2="408.45" y2="528.2848" stroke="#000" stroke-width="1.3" />
<line x1="404.25" y1="528.2848" x2="412.65" y2="528.2848" stroke="#000" stroke-width="1.3" />
<rect x="421.3" y="618.82" width="13" height="2.3800000000000003" fill="#2e4b7a"/>
<line x1="427.8" y1="618.82" x2="427.8" y2="616.2496000000001" stroke="#000" stroke-width="1.3" />
<line x1="423.6" y1="616.2496000000001" x2="432.0" y2="616.2496000000001" stroke="#000" stroke-width="1.3" />
<line x1="297.3" y1="621.2" x2="440.7" y2="621.2" stroke="#000" stroke-width="1.5" />
<line x1="318.5" y1="621.2" x2="318.5" y2="624.7" stroke="#000" stroke-width="1.3" />
<line x1="368" y1="621.2" x2="368" y2="624.7" stroke="#000" stroke-width="1.3" />
<line x1="417.5" y1="621.2" x2="417.5" y2="624.7" stroke="#000" stroke-width="1.3" />
<text x="320" y="635.7" font-family="Liberation Sans" font-size="9.5" text-anchor="middle" font-weight="normal" fill="#111" stroke="#111" stroke-width="0.3" >siScrbl</text>
<text x="368" y="635.7" font-family="Liberation Sans" font-size="9.5" text-anchor="middle" font-weight="normal" fill="#111" stroke="#111" stroke-width="0.3" >siNR4A2</text>
<text x="418.3" y="635.7" font-family="Liberation Sans" font-size="9.5" text-anchor="middle" font-weight="normal" fill="#111" stroke="#111" stroke-width="0.3" >siNR4A3</text>
<text x="369" y="650.7" font-family="Liberation Sans" font-size="12.2" text-anchor="middle" font-weight="normal" fill="#111" stroke="#111" stroke-width="0.3" textLength="27.4" lengthAdjust="spacingAndGlyphs" >siRNA</text>
<rect x="444.05" y="562.6500000000001" width="9.9" height="6.05" fill="#a5002b" stroke="#6e0020" stroke-width="0.9"/>
<rect x="444.05" y="575.6500000000001" width="9.9" height="6.05" fill="#2e4b7a" stroke="#1c2f52" stroke-width="0.9"/>
<text x="458.8" y="568.6" font-family="Liberation Sans" font-size="8.6" text-anchor="start" font-weight="normal" fill="#111" stroke="#111" stroke-width="0.3" >% neutrophil</text>
<text x="458.8" y="581.4" font-family="Liberation Sans" font-size="8.6" text-anchor="start" font-weight="normal" fill="#111" stroke="#111" stroke-width="0.3" >% progenitors</text>
<g transform="translate(265.2,573) rotate(-90)"><text x="0" y="3.78" font-family="Liberation Sans" font-size="10.5" text-anchor="middle" fill="#111" stroke="#111" stroke-width="0.3" textLength="69.3" lengthAdjust="spacingAndGlyphs">% cells (day 4)</text></g>
<text x="6.7" y="683.8" font-family="Liberation Sans" font-size="15.4" text-anchor="start" font-weight="bold" fill="#111" >H</text>
<line x1="60.5" y1="684.5" x2="60.5" y2="787.4000000000001" stroke="#000" stroke-width="1.5" />
<line x1="57.0" y1="687.5" x2="60.5" y2="687.5" stroke="#000" stroke-width="1.3" />
<text x="54.0" y="690.7" font-family="Liberation Sans" font-size="9.3" text-anchor="end" font-weight="normal" fill="#111" stroke="#111" stroke-width="0.3" >50</text>
<line x1="57.0" y1="707.3" x2="60.5" y2="707.3" stroke="#000" stroke-width="1.3" />
<text x="54.0" y="710.5" font-family="Liberation Sans" font-size="9.3" text-anchor="end" font-weight="normal" fill="#111" stroke="#111" stroke-width="0.3" >40</text>
<line x1="57.0" y1="727.2" x2="60.5" y2="727.2" stroke="#000" stroke-width="1.3" />
<text x="54.0" y="730.4000000000001" font-family="Liberation Sans" font-size="9.3" text-anchor="end" font-weight="normal" fill="#111" stroke="#111" stroke-width="0.3" >30</text>
<line x1="57.0" y1="747" x2="60.5" y2="747" stroke="#000" stroke-width="1.3" />
<text x="54.0" y="750.2" font-family="Liberation Sans" font-size="9.3" text-anchor="end" font-weight="normal" fill="#111" stroke="#111" stroke-width="0.3" >20</text>
<line x1="57.0" y1="766.9" x2="60.5" y2="766.9" stroke="#000" stroke-width="1.3" />
<text x="54.0" y="770.1" font-family="Liberation Sans" font-size="9.3" text-anchor="end" font-weight="normal" fill="#111" stroke="#111" stroke-width="0.3" >10</text>
<line x1="57.0" y1="786.7" x2="60.5" y2="786.7" stroke="#000" stroke-width="1.3" />
<text x="54.0" y="789.9000000000001" font-family="Liberation Sans" font-size="9.3" text-anchor="end" font-weight="normal" fill="#111" stroke="#111" stroke-width="0.3" >0</text>
<rect x="80.95" y="732.95" width="26.8" height="53.75000000000004" fill="#a5002b" stroke="#6e0020" stroke-width="0.9"/>
<rect x="121.95" y="706.95" width="26.6" height="79.75000000000004" fill="#2e4b7a" stroke="#1c2f52" stroke-width="0.9"/>
<rect x="162.45" y="732.85" width="27.1" height="53.850000000000065" fill="#68aa48" stroke="#45792e" stroke-width="0.9"/>
<line x1="59.8" y1="786.7" x2="209" y2="786.7" stroke="#000" stroke-width="1.5" />
<line x1="94.4" y1="786.7" x2="94.4" y2="790.2" stroke="#000" stroke-width="1.3" />
<line x1="135.2" y1="786.7" x2="135.2" y2="790.2" stroke="#000" stroke-width="1.3" />
<line x1="176" y1="786.7" x2="176" y2="790.2" stroke="#000" stroke-width="1.3" />
<text x="94.4" y="802" font-family="Liberation Sans" font-size="9.5" text-anchor="middle" font-weight="normal" fill="#111" stroke="#111" stroke-width="0.3" >Scrbl</text>
<text x="135.5" y="802" font-family="Liberation Sans" font-size="9.5" text-anchor="middle" font-weight="normal" fill="#111" stroke="#111" stroke-width="0.3" >NR4A2</text>
<text x="176" y="802" font-family="Liberation Sans" font-size="9.5" text-anchor="middle" font-weight="normal" fill="#111" stroke="#111" stroke-width="0.3" >NR4A3</text>
<text x="135" y="817" font-family="Liberation Sans" font-size="12.2" text-anchor="middle" font-weight="normal" fill="#111" stroke="#111" stroke-width="0.3" textLength="27" lengthAdjust="spacingAndGlyphs" >siRNA</text>
<g transform="translate(33.4,735.6) rotate(-90)"><text x="0" y="3.78" font-family="Liberation Sans" font-size="10.5" text-anchor="middle" fill="#111" stroke="#111" stroke-width="0.3" textLength="96.3" lengthAdjust="spacingAndGlyphs">% annexin V +ve cells</text></g>
<text x="249.8" y="683.8" font-family="Liberation Sans" font-size="15.4" text-anchor="start" font-weight="bold" fill="#111" >I</text>
<line x1="297.8" y1="684.5" x2="297.8" y2="787.4000000000001" stroke="#000" stroke-width="1.5" />
<line x1="294.3" y1="687.5" x2="297.8" y2="687.5" stroke="#000" stroke-width="1.3" />
<text x="291.3" y="690.7" font-family="Liberation Sans" font-size="9.3" text-anchor="end" font-weight="normal" fill="#111" stroke="#111" stroke-width="0.3" >80</text>
<line x1="294.3" y1="712.3" x2="297.8" y2="712.3" stroke="#000" stroke-width="1.3" />
<text x="291.3" y="715.5" font-family="Liberation Sans" font-size="9.3" text-anchor="end" font-weight="normal" fill="#111" stroke="#111" stroke-width="0.3" >60</text>
<line x1="294.3" y1="737.1" x2="297.8" y2="737.1" stroke="#000" stroke-width="1.3" />
<text x="291.3" y="740.3000000000001" font-family="Liberation Sans" font-size="9.3" text-anchor="end" font-weight="normal" fill="#111" stroke="#111" stroke-width="0.3" >40</text>
<line x1="294.3" y1="761.9" x2="297.8" y2="761.9" stroke="#000" stroke-width="1.3" />
<text x="291.3" y="765.1" font-family="Liberation Sans" font-size="9.3" text-anchor="end" font-weight="normal" fill="#111" stroke="#111" stroke-width="0.3" >20</text>
<line x1="294.3" y1="786.7" x2="297.8" y2="786.7" stroke="#000" stroke-width="1.3" />
<text x="291.3" y="789.9000000000001" font-family="Liberation Sans" font-size="9.3" text-anchor="end" font-weight="normal" fill="#111" stroke="#111" stroke-width="0.3" >0</text>
<rect x="317.95" y="713.45" width="26.900000000000002" height="73.25000000000004" fill="#a5002b" stroke="#6e0020" stroke-width="0.9"/>
<rect x="358.65" y="697.35" width="27.1" height="89.35000000000007" fill="#2e4b7a" stroke="#1c2f52" stroke-width="0.9"/>
<rect x="399.55" y="714.1500000000001" width="27.1" height="72.55" fill="#68aa48" stroke="#45792e" stroke-width="0.9"/>
<line x1="297.1" y1="786.7" x2="446.7" y2="786.7" stroke="#000" stroke-width="1.5" />
<line x1="331.4" y1="786.7" x2="331.4" y2="790.2" stroke="#000" stroke-width="1.3" />
<line x1="372.2" y1="786.7" x2="372.2" y2="790.2" stroke="#000" stroke-width="1.3" />
<line x1="413.1" y1="786.7" x2="413.1" y2="790.2" stroke="#000" stroke-width="1.3" />
<text x="331.4" y="802" font-family="Liberation Sans" font-size="9.5" text-anchor="middle" font-weight="normal" fill="#111" stroke="#111" stroke-width="0.3" >Scrbl</text>
<text x="372.7" y="802" font-family="Liberation Sans" font-size="9.5" text-anchor="middle" font-weight="normal" fill="#111" stroke="#111" stroke-width="0.3" >NR4A2</text>
<text x="412.8" y="802" font-family="Liberation Sans" font-size="9.5" text-anchor="middle" font-weight="normal" fill="#111" stroke="#111" stroke-width="0.3" >NR4A3</text>
<text x="371.7" y="817" font-family="Liberation Sans" font-size="12.2" text-anchor="middle" font-weight="normal" fill="#111" stroke="#111" stroke-width="0.3" textLength="27.7" lengthAdjust="spacingAndGlyphs" >siRNA</text>
<g transform="translate(270.7,735.4) rotate(-90)"><text x="0" y="3.78" font-family="Liberation Sans" font-size="10.5" text-anchor="middle" fill="#111" stroke="#111" stroke-width="0.3" textLength="96.3" lengthAdjust="spacingAndGlyphs">% annexin V +ve cells</text></g>
<rect x="0.5" y="0.5" width="518" height="824" fill="none" stroke="#000" stroke-width="1.2"/>
<rect x="518.4" y="0" width="1.6" height="826" fill="#000"/>
<rect x="0" y="824" width="520" height="2" fill="#000"/>
</svg></body></html>
